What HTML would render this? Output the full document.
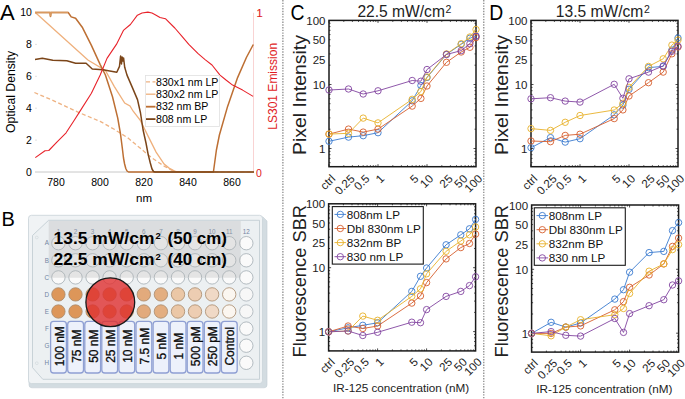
<!DOCTYPE html>
<html><head><meta charset="utf-8"><style>
html,body{margin:0;padding:0;background:#fff;}
svg{display:block;}
</style></head><body>
<svg width="685" height="399" viewBox="0 0 685 399" font-family='"Liberation Sans", sans-serif'>
<rect width="685" height="399" fill="#fff"/>
<g id="A">
<text x="0" y="20.3" font-size="22" font-family='"Liberation Sans", sans-serif'>A</text>
<line x1="35" y1="172" x2="254" y2="172" stroke="#c8c8c8" stroke-width="1"/>
<line x1="253.5" y1="12.8" x2="253.5" y2="172" stroke="#f8c8c8" stroke-width="0.8"/>
<text x="31.9" y="175.8" font-size="10.5" text-anchor="end" font-family='"Liberation Sans", sans-serif'>0</text>
<text x="31.9" y="143.9" font-size="10.5" text-anchor="end" font-family='"Liberation Sans", sans-serif'>2</text>
<line x1="35" y1="140.1" x2="37" y2="140.1" stroke="#ccc" stroke-width="0.6"/>
<text x="31.9" y="112.0" font-size="10.5" text-anchor="end" font-family='"Liberation Sans", sans-serif'>4</text>
<line x1="35" y1="108.2" x2="37" y2="108.2" stroke="#ccc" stroke-width="0.6"/>
<text x="31.9" y="80.1" font-size="10.5" text-anchor="end" font-family='"Liberation Sans", sans-serif'>6</text>
<line x1="35" y1="76.3" x2="37" y2="76.3" stroke="#ccc" stroke-width="0.6"/>
<text x="31.9" y="48.2" font-size="10.5" text-anchor="end" font-family='"Liberation Sans", sans-serif'>8</text>
<line x1="35" y1="44.4" x2="37" y2="44.4" stroke="#ccc" stroke-width="0.6"/>
<text x="31.9" y="16.3" font-size="10.5" text-anchor="end" font-family='"Liberation Sans", sans-serif'>10</text>
<line x1="35" y1="12.5" x2="37" y2="12.5" stroke="#ccc" stroke-width="0.6"/>
<text x="56.0" y="186.3" font-size="10.5" text-anchor="middle" font-family='"Liberation Sans", sans-serif'>780</text>
<text x="100.0" y="186.3" font-size="10.5" text-anchor="middle" font-family='"Liberation Sans", sans-serif'>800</text>
<text x="144.0" y="186.3" font-size="10.5" text-anchor="middle" font-family='"Liberation Sans", sans-serif'>820</text>
<text x="188.0" y="186.3" font-size="10.5" text-anchor="middle" font-family='"Liberation Sans", sans-serif'>840</text>
<text x="232.0" y="186.3" font-size="10.5" text-anchor="middle" font-family='"Liberation Sans", sans-serif'>860</text>
<text x="144" y="201.5" font-size="11.5" text-anchor="middle" font-family='"Liberation Sans", sans-serif'>nm</text>
<text transform="translate(15.3,92) rotate(-90)" font-size="12.2" text-anchor="middle" font-family='"Liberation Sans", sans-serif'>Optical Density</text>
<text transform="translate(276.5,86.3) rotate(-90)" font-size="12" fill="#e01b24" text-anchor="middle" font-family='"Liberation Sans", sans-serif'>LS301 Emission</text>
<text x="256.4" y="16.9" font-size="11" fill="#e01b24" stroke="#e01b24" stroke-width="0.15" font-family='"Liberation Sans", sans-serif'>1</text>
<text x="256" y="176.5" font-size="10.5" fill="#e01b24" font-family='"Liberation Sans", sans-serif'>0</text>
<polyline points="34.4,92.5 52.8,100.4 79.1,112.6 100.2,121.4 114.2,129.3 128.1,138.1 140.1,148.1 152.1,158.1 164.1,166.1 172.0,170.5 178.0,172.0 254.0,172.0" fill="none" stroke="#eeb282" stroke-width="1.3" stroke-dasharray="4,2.5"/>
<polyline points="35.3,12.5 87.9,60.0 105.4,70.5 114.2,86.3 124.7,103.0 130.0,106.0 133.0,111.0 140.1,120.0 148.1,136.1 156.1,152.1 164.1,164.1 169.1,168.1 176.0,171.8 254.0,172.0" fill="none" stroke="#efb07c" stroke-width="1.3"/>
<polyline points="35.0,12.5 50.0,12.5 50.5,16.5 51.0,12.5 68.2,12.5 71.2,16.9 75.6,18.2 82.6,27.8 91.4,45.4 100.2,64.6 105.4,75.0 112.5,96.8 117.7,117.9 120.5,134.0 122.3,148.0 123.5,158.0 124.6,164.0 125.8,168.5 127.0,171.0 128.5,172.0 213.4,172.0 216.4,150.0 219.4,135.0 227.6,106.4 237.6,77.6 246.4,57.5 253.3,44.5" fill="none" stroke="#bd6f33" stroke-width="1.5" stroke-linejoin="round"/>
<polyline points="35.0,12.5 50.0,12.5 50.5,16.5 51.0,12.5 68.2,12.5" fill="none" stroke="#d9995f" stroke-width="1.5"/>
<polyline points="35.0,59.4 42.3,58.2 52.8,60.3 66.8,60.8 75.6,63.2 86.1,63.2 92.3,69.0 102.8,69.8 116.8,72.3 119.5,66.4 120.6,56.0 121.5,64.0 122.1,57.0 123.0,61.0 123.6,58.0 124.7,67.3 127.0,75.1 132.3,87.4 137.5,99.6 140.5,113.0 143.1,130.0 146.0,143.0 148.1,154.1 150.3,163.0 152.0,169.0 153.5,171.5 155.0,172.0 254.0,172.0" fill="none" stroke="#7b4519" stroke-width="1.5" stroke-linejoin="round"/>
<polyline points="35.3,157.6 45.0,150.8 48.8,150.5 57.1,141.8 66.1,132.8 74.4,120.0 79.1,112.6 91.4,93.3 100.2,75.0 107.0,58.4 116.4,44.4 123.4,30.4 130.4,24.5 137.4,15.2 142.0,13.0 147.9,12.1 152.0,13.0 156.1,15.2 160.0,17.5 165.4,18.7 174.8,28.0 181.8,36.2 188.8,44.4 198.1,53.7 205.1,59.6 212.0,65.0 220.0,75.1 226.0,80.0 232.6,85.1 242.6,90.1 253.1,96.4" fill="none" stroke="#e8222a" stroke-width="1.1" stroke-linejoin="round"/>
<rect x="145.5" y="75.5" width="74" height="51" fill="#fff" stroke="#e0e0e0" stroke-width="0.8"/>
<line x1="146" y1="81.8" x2="155.5" y2="81.8" stroke="#eeb282" stroke-width="1.3" stroke-dasharray="4,2.5"/>
<text x="156" y="85.5" font-size="10.6" font-family='"Liberation Sans", sans-serif'>830x1 nm LP</text>
<line x1="146" y1="94.2" x2="155.5" y2="94.2" stroke="#efb07c" stroke-width="1.3"/>
<text x="156" y="98.0" font-size="10.6" font-family='"Liberation Sans", sans-serif'>830x2 nm LP</text>
<line x1="146" y1="106.7" x2="155.5" y2="106.7" stroke="#bd6f33" stroke-width="1.8"/>
<text x="156" y="110.4" font-size="10.6" font-family='"Liberation Sans", sans-serif'>832 nm BP</text>
<line x1="146" y1="119.1" x2="155.5" y2="119.1" stroke="#7b4519" stroke-width="1.8"/>
<text x="156" y="122.8" font-size="10.6" font-family='"Liberation Sans", sans-serif'>808 nm LP</text>
</g>
<g id="B">
<text x="1.5" y="225.8" font-size="20" font-family='"Liberation Sans", sans-serif'>B</text>
<path d="M30,217 L263,217 L267,221 L267,385 Q267,387.8 264,387.8 L32,387.8 Q29,387.8 29,385 Z" fill="#d3dce1" stroke="#c5cfd5" stroke-width="0.6"/>
<rect x="28.5" y="215.3" width="234" height="168.3" rx="3" fill="#f0f3f5" stroke="#cdd6db" stroke-width="0.9"/>
<path d="M48.6,220.3 L259.5,220.3 L259.5,379.3 L42.8,379.3 L32.5,367.6 L32.5,235.5 Z" fill="#ecf0f2" stroke="#c3ced4" stroke-width="0.9"/>
<circle cx="36.8" cy="237.5" r="1.4" fill="none" stroke="#c8d0d4" stroke-width="0.5"/>
<circle cx="36.8" cy="363.2" r="1.4" fill="none" stroke="#c8d0d4" stroke-width="0.5"/>
<text x="46.9" y="245.4" font-size="6.3" fill="#7385a2" text-anchor="middle" font-family='"Liberation Sans", sans-serif'>A</text>
<text x="46.9" y="262.5" font-size="6.3" fill="#7385a2" text-anchor="middle" font-family='"Liberation Sans", sans-serif'>B</text>
<text x="46.9" y="279.6" font-size="6.3" fill="#7385a2" text-anchor="middle" font-family='"Liberation Sans", sans-serif'>C</text>
<text x="46.9" y="296.6" font-size="6.3" fill="#7385a2" text-anchor="middle" font-family='"Liberation Sans", sans-serif'>D</text>
<text x="46.9" y="313.7" font-size="6.3" fill="#7385a2" text-anchor="middle" font-family='"Liberation Sans", sans-serif'>E</text>
<text x="46.9" y="330.8" font-size="6.3" fill="#7385a2" text-anchor="middle" font-family='"Liberation Sans", sans-serif'>F</text>
<text x="46.9" y="347.9" font-size="6.3" fill="#7385a2" text-anchor="middle" font-family='"Liberation Sans", sans-serif'>G</text>
<text x="46.9" y="365.0" font-size="6.3" fill="#7385a2" text-anchor="middle" font-family='"Liberation Sans", sans-serif'>H</text>
<text x="58.4" y="233.7" font-size="6.3" fill="#7385a2" text-anchor="middle" font-family='"Liberation Sans", sans-serif'>1</text>
<text x="75.5" y="233.7" font-size="6.3" fill="#7385a2" text-anchor="middle" font-family='"Liberation Sans", sans-serif'>2</text>
<text x="92.6" y="233.7" font-size="6.3" fill="#7385a2" text-anchor="middle" font-family='"Liberation Sans", sans-serif'>3</text>
<text x="109.6" y="233.7" font-size="6.3" fill="#7385a2" text-anchor="middle" font-family='"Liberation Sans", sans-serif'>4</text>
<text x="126.7" y="233.7" font-size="6.3" fill="#7385a2" text-anchor="middle" font-family='"Liberation Sans", sans-serif'>5</text>
<text x="143.8" y="233.7" font-size="6.3" fill="#7385a2" text-anchor="middle" font-family='"Liberation Sans", sans-serif'>6</text>
<text x="160.9" y="233.7" font-size="6.3" fill="#7385a2" text-anchor="middle" font-family='"Liberation Sans", sans-serif'>7</text>
<text x="178.0" y="233.7" font-size="6.3" fill="#7385a2" text-anchor="middle" font-family='"Liberation Sans", sans-serif'>8</text>
<text x="195.0" y="233.7" font-size="6.3" fill="#7385a2" text-anchor="middle" font-family='"Liberation Sans", sans-serif'>9</text>
<text x="212.1" y="233.7" font-size="6.3" fill="#7385a2" text-anchor="middle" font-family='"Liberation Sans", sans-serif'>10</text>
<text x="229.2" y="233.7" font-size="6.3" fill="#7385a2" text-anchor="middle" font-family='"Liberation Sans", sans-serif'>11</text>
<text x="246.3" y="233.7" font-size="6.3" fill="#7385a2" text-anchor="middle" font-family='"Liberation Sans", sans-serif'>12</text>
<circle cx="58.4" cy="243.2" r="6.7" fill="#fafafa" stroke="#a2acb2" stroke-width="0.8"/>
<circle cx="75.5" cy="243.2" r="6.7" fill="#fafafa" stroke="#a2acb2" stroke-width="0.8"/>
<circle cx="92.6" cy="243.2" r="6.7" fill="#fafafa" stroke="#a2acb2" stroke-width="0.8"/>
<circle cx="109.6" cy="243.2" r="6.7" fill="#fafafa" stroke="#a2acb2" stroke-width="0.8"/>
<circle cx="126.7" cy="243.2" r="6.7" fill="#fafafa" stroke="#a2acb2" stroke-width="0.8"/>
<circle cx="143.8" cy="243.2" r="6.7" fill="#fafafa" stroke="#a2acb2" stroke-width="0.8"/>
<circle cx="160.9" cy="243.2" r="6.7" fill="#fafafa" stroke="#a2acb2" stroke-width="0.8"/>
<circle cx="178.0" cy="243.2" r="6.7" fill="#fafafa" stroke="#a2acb2" stroke-width="0.8"/>
<circle cx="195.0" cy="243.2" r="6.7" fill="#fafafa" stroke="#a2acb2" stroke-width="0.8"/>
<circle cx="212.1" cy="243.2" r="6.7" fill="#fafafa" stroke="#a2acb2" stroke-width="0.8"/>
<circle cx="229.2" cy="243.2" r="6.7" fill="#fafafa" stroke="#a2acb2" stroke-width="0.8"/>
<circle cx="246.3" cy="243.2" r="6.7" fill="#fafafa" stroke="#a2acb2" stroke-width="0.8"/>
<circle cx="58.4" cy="260.3" r="6.7" fill="#fafafa" stroke="#a2acb2" stroke-width="0.8"/>
<circle cx="75.5" cy="260.3" r="6.7" fill="#fafafa" stroke="#a2acb2" stroke-width="0.8"/>
<circle cx="92.6" cy="260.3" r="6.7" fill="#fafafa" stroke="#a2acb2" stroke-width="0.8"/>
<circle cx="109.6" cy="260.3" r="6.7" fill="#fafafa" stroke="#a2acb2" stroke-width="0.8"/>
<circle cx="126.7" cy="260.3" r="6.7" fill="#fafafa" stroke="#a2acb2" stroke-width="0.8"/>
<circle cx="143.8" cy="260.3" r="6.7" fill="#fafafa" stroke="#a2acb2" stroke-width="0.8"/>
<circle cx="160.9" cy="260.3" r="6.7" fill="#fafafa" stroke="#a2acb2" stroke-width="0.8"/>
<circle cx="178.0" cy="260.3" r="6.7" fill="#fafafa" stroke="#a2acb2" stroke-width="0.8"/>
<circle cx="195.0" cy="260.3" r="6.7" fill="#fafafa" stroke="#a2acb2" stroke-width="0.8"/>
<circle cx="212.1" cy="260.3" r="6.7" fill="#fafafa" stroke="#a2acb2" stroke-width="0.8"/>
<circle cx="229.2" cy="260.3" r="6.7" fill="#fafafa" stroke="#a2acb2" stroke-width="0.8"/>
<circle cx="246.3" cy="260.3" r="6.7" fill="#fafafa" stroke="#a2acb2" stroke-width="0.8"/>
<circle cx="58.4" cy="277.4" r="6.7" fill="#fafafa" stroke="#a2acb2" stroke-width="0.8"/>
<circle cx="75.5" cy="277.4" r="6.7" fill="#fafafa" stroke="#a2acb2" stroke-width="0.8"/>
<circle cx="92.6" cy="277.4" r="6.7" fill="#fafafa" stroke="#a2acb2" stroke-width="0.8"/>
<circle cx="109.6" cy="277.4" r="6.7" fill="#fafafa" stroke="#a2acb2" stroke-width="0.8"/>
<circle cx="126.7" cy="277.4" r="6.7" fill="#fafafa" stroke="#a2acb2" stroke-width="0.8"/>
<circle cx="143.8" cy="277.4" r="6.7" fill="#fafafa" stroke="#a2acb2" stroke-width="0.8"/>
<circle cx="160.9" cy="277.4" r="6.7" fill="#fafafa" stroke="#a2acb2" stroke-width="0.8"/>
<circle cx="178.0" cy="277.4" r="6.7" fill="#fafafa" stroke="#a2acb2" stroke-width="0.8"/>
<circle cx="195.0" cy="277.4" r="6.7" fill="#fafafa" stroke="#a2acb2" stroke-width="0.8"/>
<circle cx="212.1" cy="277.4" r="6.7" fill="#fafafa" stroke="#a2acb2" stroke-width="0.8"/>
<circle cx="229.2" cy="277.4" r="6.7" fill="#fafafa" stroke="#a2acb2" stroke-width="0.8"/>
<circle cx="246.3" cy="277.4" r="6.7" fill="#fafafa" stroke="#a2acb2" stroke-width="0.8"/>
<circle cx="58.4" cy="294.4" r="6.7" fill="#dd9659" stroke="#a88a6c" stroke-width="0.8"/>
<circle cx="75.5" cy="294.4" r="6.7" fill="#dd9659" stroke="#a88a6c" stroke-width="0.8"/>
<circle cx="92.6" cy="294.4" r="6.7" fill="#dd9659" stroke="#a88a6c" stroke-width="0.8"/>
<circle cx="109.6" cy="294.4" r="6.7" fill="#dd9659" stroke="#a88a6c" stroke-width="0.8"/>
<circle cx="126.7" cy="294.4" r="6.7" fill="#dd9659" stroke="#a88a6c" stroke-width="0.8"/>
<circle cx="143.8" cy="294.4" r="6.7" fill="#e2aa7c" stroke="#a88a6c" stroke-width="0.8"/>
<circle cx="160.9" cy="294.4" r="6.7" fill="#e3ae80" stroke="#a88a6c" stroke-width="0.8"/>
<circle cx="178.0" cy="294.4" r="6.7" fill="#ebc7a6" stroke="#a88a6c" stroke-width="0.8"/>
<circle cx="195.0" cy="294.4" r="6.7" fill="#edcdb2" stroke="#a88a6c" stroke-width="0.8"/>
<circle cx="212.1" cy="294.4" r="6.7" fill="#f0d9c6" stroke="#a88a6c" stroke-width="0.8"/>
<circle cx="229.2" cy="294.4" r="6.7" fill="#fbf6f0" stroke="#a88a6c" stroke-width="0.8"/>
<circle cx="246.3" cy="294.4" r="6.7" fill="#f7f7f7" stroke="#a9b3b9" stroke-width="0.8"/>
<circle cx="58.4" cy="311.5" r="6.7" fill="#dd9659" stroke="#a88a6c" stroke-width="0.8"/>
<circle cx="75.5" cy="311.5" r="6.7" fill="#dd9659" stroke="#a88a6c" stroke-width="0.8"/>
<circle cx="92.6" cy="311.5" r="6.7" fill="#dd9659" stroke="#a88a6c" stroke-width="0.8"/>
<circle cx="109.6" cy="311.5" r="6.7" fill="#dd9659" stroke="#a88a6c" stroke-width="0.8"/>
<circle cx="126.7" cy="311.5" r="6.7" fill="#dd9659" stroke="#a88a6c" stroke-width="0.8"/>
<circle cx="143.8" cy="311.5" r="6.7" fill="#e2aa7c" stroke="#a88a6c" stroke-width="0.8"/>
<circle cx="160.9" cy="311.5" r="6.7" fill="#e3ae80" stroke="#a88a6c" stroke-width="0.8"/>
<circle cx="178.0" cy="311.5" r="6.7" fill="#ebc7a6" stroke="#a88a6c" stroke-width="0.8"/>
<circle cx="195.0" cy="311.5" r="6.7" fill="#edcdb2" stroke="#a88a6c" stroke-width="0.8"/>
<circle cx="212.1" cy="311.5" r="6.7" fill="#f0d9c6" stroke="#a88a6c" stroke-width="0.8"/>
<circle cx="229.2" cy="311.5" r="6.7" fill="#fbf6f0" stroke="#a88a6c" stroke-width="0.8"/>
<circle cx="246.3" cy="311.5" r="6.7" fill="#f7f7f7" stroke="#a9b3b9" stroke-width="0.8"/>
<circle cx="58.4" cy="328.6" r="6.7" fill="#fafafa" stroke="#a2acb2" stroke-width="0.8"/>
<circle cx="75.5" cy="328.6" r="6.7" fill="#fafafa" stroke="#a2acb2" stroke-width="0.8"/>
<circle cx="92.6" cy="328.6" r="6.7" fill="#fafafa" stroke="#a2acb2" stroke-width="0.8"/>
<circle cx="109.6" cy="328.6" r="6.7" fill="#fafafa" stroke="#a2acb2" stroke-width="0.8"/>
<circle cx="126.7" cy="328.6" r="6.7" fill="#fafafa" stroke="#a2acb2" stroke-width="0.8"/>
<circle cx="143.8" cy="328.6" r="6.7" fill="#fafafa" stroke="#a2acb2" stroke-width="0.8"/>
<circle cx="160.9" cy="328.6" r="6.7" fill="#fafafa" stroke="#a2acb2" stroke-width="0.8"/>
<circle cx="178.0" cy="328.6" r="6.7" fill="#fafafa" stroke="#a2acb2" stroke-width="0.8"/>
<circle cx="195.0" cy="328.6" r="6.7" fill="#fafafa" stroke="#a2acb2" stroke-width="0.8"/>
<circle cx="212.1" cy="328.6" r="6.7" fill="#fafafa" stroke="#a2acb2" stroke-width="0.8"/>
<circle cx="229.2" cy="328.6" r="6.7" fill="#fafafa" stroke="#a2acb2" stroke-width="0.8"/>
<circle cx="246.3" cy="328.6" r="6.7" fill="#fafafa" stroke="#a2acb2" stroke-width="0.8"/>
<circle cx="58.4" cy="345.7" r="6.7" fill="#fafafa" stroke="#a2acb2" stroke-width="0.8"/>
<circle cx="75.5" cy="345.7" r="6.7" fill="#fafafa" stroke="#a2acb2" stroke-width="0.8"/>
<circle cx="92.6" cy="345.7" r="6.7" fill="#fafafa" stroke="#a2acb2" stroke-width="0.8"/>
<circle cx="109.6" cy="345.7" r="6.7" fill="#fafafa" stroke="#a2acb2" stroke-width="0.8"/>
<circle cx="126.7" cy="345.7" r="6.7" fill="#fafafa" stroke="#a2acb2" stroke-width="0.8"/>
<circle cx="143.8" cy="345.7" r="6.7" fill="#fafafa" stroke="#a2acb2" stroke-width="0.8"/>
<circle cx="160.9" cy="345.7" r="6.7" fill="#fafafa" stroke="#a2acb2" stroke-width="0.8"/>
<circle cx="178.0" cy="345.7" r="6.7" fill="#fafafa" stroke="#a2acb2" stroke-width="0.8"/>
<circle cx="195.0" cy="345.7" r="6.7" fill="#fafafa" stroke="#a2acb2" stroke-width="0.8"/>
<circle cx="212.1" cy="345.7" r="6.7" fill="#fafafa" stroke="#a2acb2" stroke-width="0.8"/>
<circle cx="229.2" cy="345.7" r="6.7" fill="#fafafa" stroke="#a2acb2" stroke-width="0.8"/>
<circle cx="246.3" cy="345.7" r="6.7" fill="#fafafa" stroke="#a2acb2" stroke-width="0.8"/>
<circle cx="58.4" cy="362.8" r="6.7" fill="#fafafa" stroke="#a2acb2" stroke-width="0.8"/>
<circle cx="75.5" cy="362.8" r="6.7" fill="#fafafa" stroke="#a2acb2" stroke-width="0.8"/>
<circle cx="92.6" cy="362.8" r="6.7" fill="#fafafa" stroke="#a2acb2" stroke-width="0.8"/>
<circle cx="109.6" cy="362.8" r="6.7" fill="#fafafa" stroke="#a2acb2" stroke-width="0.8"/>
<circle cx="126.7" cy="362.8" r="6.7" fill="#fafafa" stroke="#a2acb2" stroke-width="0.8"/>
<circle cx="143.8" cy="362.8" r="6.7" fill="#fafafa" stroke="#a2acb2" stroke-width="0.8"/>
<circle cx="160.9" cy="362.8" r="6.7" fill="#fafafa" stroke="#a2acb2" stroke-width="0.8"/>
<circle cx="178.0" cy="362.8" r="6.7" fill="#fafafa" stroke="#a2acb2" stroke-width="0.8"/>
<circle cx="195.0" cy="362.8" r="6.7" fill="#fafafa" stroke="#a2acb2" stroke-width="0.8"/>
<circle cx="212.1" cy="362.8" r="6.7" fill="#fafafa" stroke="#a2acb2" stroke-width="0.8"/>
<circle cx="229.2" cy="362.8" r="6.7" fill="#fafafa" stroke="#a2acb2" stroke-width="0.8"/>
<circle cx="246.3" cy="362.8" r="6.7" fill="#fafafa" stroke="#a2acb2" stroke-width="0.8"/>
<rect x="48.7" y="221" width="192" height="56.8" fill="#b4b4b4" fill-opacity="0.3"/>
<text x="53.6" y="243.8" font-size="16.2" font-weight="bold" textLength="100.8" lengthAdjust="spacingAndGlyphs" font-family='"Liberation Sans", sans-serif'>13.5 mW/cm</text>
<text x="155.6" y="238.6" font-size="9.5" font-weight="bold" font-family='"Liberation Sans", sans-serif'>2</text>
<text x="167.6" y="243.8" font-size="16.2" font-weight="bold" textLength="59.3" lengthAdjust="spacingAndGlyphs" font-family='"Liberation Sans", sans-serif'>(50 cm)</text>
<text x="53.6" y="264.8" font-size="16.2" font-weight="bold" textLength="100.8" lengthAdjust="spacingAndGlyphs" font-family='"Liberation Sans", sans-serif'>22.5 mW/cm</text>
<text x="155.6" y="259.6" font-size="9.5" font-weight="bold" font-family='"Liberation Sans", sans-serif'>2</text>
<text x="167.6" y="264.8" font-size="16.2" font-weight="bold" textLength="59.3" lengthAdjust="spacingAndGlyphs" font-family='"Liberation Sans", sans-serif'>(40 cm)</text>
<rect x="50.6" y="321.4" width="15.8" height="51.6" rx="3" fill="#edf1fb" stroke="#8f9fd3" stroke-width="1.3"/>
<text transform="translate(63.6,346.2) rotate(-90)" font-size="12" text-anchor="middle" fill="#0a0a0a" stroke="#0a0a0a" stroke-width="0.3" font-family='"Liberation Sans", sans-serif'>100 nM</text>
<rect x="67.7" y="321.4" width="15.8" height="51.6" rx="3" fill="#edf1fb" stroke="#8f9fd3" stroke-width="1.3"/>
<text transform="translate(80.7,346.2) rotate(-90)" font-size="12" text-anchor="middle" fill="#0a0a0a" stroke="#0a0a0a" stroke-width="0.3" font-family='"Liberation Sans", sans-serif'>75 nM</text>
<rect x="84.8" y="321.4" width="15.8" height="51.6" rx="3" fill="#edf1fb" stroke="#8f9fd3" stroke-width="1.3"/>
<text transform="translate(97.8,346.2) rotate(-90)" font-size="12" text-anchor="middle" fill="#0a0a0a" stroke="#0a0a0a" stroke-width="0.3" font-family='"Liberation Sans", sans-serif'>50 nM</text>
<rect x="101.8" y="321.4" width="15.8" height="51.6" rx="3" fill="#edf1fb" stroke="#8f9fd3" stroke-width="1.3"/>
<text transform="translate(114.8,346.2) rotate(-90)" font-size="12" text-anchor="middle" fill="#0a0a0a" stroke="#0a0a0a" stroke-width="0.3" font-family='"Liberation Sans", sans-serif'>25 nM</text>
<rect x="118.9" y="321.4" width="15.8" height="51.6" rx="3" fill="#edf1fb" stroke="#8f9fd3" stroke-width="1.3"/>
<text transform="translate(131.9,346.2) rotate(-90)" font-size="12" text-anchor="middle" fill="#0a0a0a" stroke="#0a0a0a" stroke-width="0.3" font-family='"Liberation Sans", sans-serif'>10 nM</text>
<rect x="136.0" y="321.4" width="15.8" height="51.6" rx="3" fill="#edf1fb" stroke="#8f9fd3" stroke-width="1.3"/>
<text transform="translate(149.0,346.2) rotate(-90)" font-size="12" text-anchor="middle" fill="#0a0a0a" stroke="#0a0a0a" stroke-width="0.3" font-family='"Liberation Sans", sans-serif'>7.5 nM</text>
<rect x="153.1" y="321.4" width="15.8" height="51.6" rx="3" fill="#edf1fb" stroke="#8f9fd3" stroke-width="1.3"/>
<text transform="translate(166.1,346.2) rotate(-90)" font-size="12" text-anchor="middle" fill="#0a0a0a" stroke="#0a0a0a" stroke-width="0.3" font-family='"Liberation Sans", sans-serif'>5 nM</text>
<rect x="170.2" y="321.4" width="15.8" height="51.6" rx="3" fill="#edf1fb" stroke="#8f9fd3" stroke-width="1.3"/>
<text transform="translate(183.2,346.2) rotate(-90)" font-size="12" text-anchor="middle" fill="#0a0a0a" stroke="#0a0a0a" stroke-width="0.3" font-family='"Liberation Sans", sans-serif'>1 nM</text>
<rect x="187.2" y="321.4" width="15.8" height="51.6" rx="3" fill="#edf1fb" stroke="#8f9fd3" stroke-width="1.3"/>
<text transform="translate(200.2,346.2) rotate(-90)" font-size="12" text-anchor="middle" fill="#0a0a0a" stroke="#0a0a0a" stroke-width="0.3" font-family='"Liberation Sans", sans-serif'>500 pM</text>
<rect x="204.3" y="321.4" width="15.8" height="51.6" rx="3" fill="#edf1fb" stroke="#8f9fd3" stroke-width="1.3"/>
<text transform="translate(217.3,346.2) rotate(-90)" font-size="12" text-anchor="middle" fill="#0a0a0a" stroke="#0a0a0a" stroke-width="0.3" font-family='"Liberation Sans", sans-serif'>250 pM</text>
<rect x="221.4" y="321.4" width="15.8" height="51.6" rx="3" fill="#edf1fb" stroke="#8f9fd3" stroke-width="1.3"/>
<text transform="translate(234.4,346.2) rotate(-90)" font-size="12" text-anchor="middle" fill="#0a0a0a" stroke="#0a0a0a" stroke-width="0.3" font-family='"Liberation Sans", sans-serif'>Control</text>
<circle cx="110.3" cy="302.2" r="24.4" fill="#e03030" fill-opacity="0.8" stroke="#1a1a1a" stroke-width="1.3"/>
</g>
<line x1="282.9" y1="0" x2="282.9" y2="399" stroke="#777" stroke-width="1.1" stroke-dasharray="1.4,1.3"/>
<line x1="483.8" y1="0" x2="483.8" y2="399" stroke="#777" stroke-width="1.1" stroke-dasharray="1.4,1.3"/>
<text x="290.5" y="20.3" font-size="22" textLength="14" lengthAdjust="spacingAndGlyphs" font-family='"Liberation Sans", sans-serif'>C</text>
<text x="357.4" y="17.2" font-size="15.8" textLength="87.5" lengthAdjust="spacingAndGlyphs" fill="#222" font-family='"Liberation Sans", sans-serif'>22.5 mW/cm</text>
<text x="445.6" y="12.6" font-size="10.5" fill="#222" font-family='"Liberation Sans", sans-serif'>2</text>
<line x1="329" y1="162.7" x2="330.5" y2="162.7" stroke="#222" stroke-width="0.8"/>
<line x1="476" y1="162.7" x2="474.5" y2="162.7" stroke="#222" stroke-width="0.8"/>
<line x1="329" y1="158.4" x2="330.5" y2="158.4" stroke="#222" stroke-width="0.8"/>
<line x1="476" y1="158.4" x2="474.5" y2="158.4" stroke="#222" stroke-width="0.8"/>
<line x1="329" y1="154.7" x2="330.5" y2="154.7" stroke="#222" stroke-width="0.8"/>
<line x1="476" y1="154.7" x2="474.5" y2="154.7" stroke="#222" stroke-width="0.8"/>
<line x1="329" y1="151.4" x2="330.5" y2="151.4" stroke="#222" stroke-width="0.8"/>
<line x1="476" y1="151.4" x2="474.5" y2="151.4" stroke="#222" stroke-width="0.8"/>
<line x1="329" y1="148.5" x2="331.5" y2="148.5" stroke="#222" stroke-width="0.8"/>
<line x1="476" y1="148.5" x2="473.5" y2="148.5" stroke="#222" stroke-width="0.8"/>
<line x1="329" y1="129.2" x2="330.5" y2="129.2" stroke="#222" stroke-width="0.8"/>
<line x1="476" y1="129.2" x2="474.5" y2="129.2" stroke="#222" stroke-width="0.8"/>
<line x1="329" y1="117.9" x2="330.5" y2="117.9" stroke="#222" stroke-width="0.8"/>
<line x1="476" y1="117.9" x2="474.5" y2="117.9" stroke="#222" stroke-width="0.8"/>
<line x1="329" y1="109.9" x2="330.5" y2="109.9" stroke="#222" stroke-width="0.8"/>
<line x1="476" y1="109.9" x2="474.5" y2="109.9" stroke="#222" stroke-width="0.8"/>
<line x1="329" y1="103.7" x2="330.5" y2="103.7" stroke="#222" stroke-width="0.8"/>
<line x1="476" y1="103.7" x2="474.5" y2="103.7" stroke="#222" stroke-width="0.8"/>
<line x1="329" y1="98.7" x2="330.5" y2="98.7" stroke="#222" stroke-width="0.8"/>
<line x1="476" y1="98.7" x2="474.5" y2="98.7" stroke="#222" stroke-width="0.8"/>
<line x1="329" y1="94.4" x2="330.5" y2="94.4" stroke="#222" stroke-width="0.8"/>
<line x1="476" y1="94.4" x2="474.5" y2="94.4" stroke="#222" stroke-width="0.8"/>
<line x1="329" y1="90.7" x2="330.5" y2="90.7" stroke="#222" stroke-width="0.8"/>
<line x1="476" y1="90.7" x2="474.5" y2="90.7" stroke="#222" stroke-width="0.8"/>
<line x1="329" y1="87.4" x2="330.5" y2="87.4" stroke="#222" stroke-width="0.8"/>
<line x1="476" y1="87.4" x2="474.5" y2="87.4" stroke="#222" stroke-width="0.8"/>
<line x1="329" y1="84.5" x2="331.5" y2="84.5" stroke="#222" stroke-width="0.8"/>
<line x1="476" y1="84.5" x2="473.5" y2="84.5" stroke="#222" stroke-width="0.8"/>
<line x1="329" y1="65.2" x2="330.5" y2="65.2" stroke="#222" stroke-width="0.8"/>
<line x1="476" y1="65.2" x2="474.5" y2="65.2" stroke="#222" stroke-width="0.8"/>
<line x1="329" y1="53.9" x2="330.5" y2="53.9" stroke="#222" stroke-width="0.8"/>
<line x1="476" y1="53.9" x2="474.5" y2="53.9" stroke="#222" stroke-width="0.8"/>
<line x1="329" y1="45.9" x2="330.5" y2="45.9" stroke="#222" stroke-width="0.8"/>
<line x1="476" y1="45.9" x2="474.5" y2="45.9" stroke="#222" stroke-width="0.8"/>
<line x1="329" y1="39.7" x2="330.5" y2="39.7" stroke="#222" stroke-width="0.8"/>
<line x1="476" y1="39.7" x2="474.5" y2="39.7" stroke="#222" stroke-width="0.8"/>
<line x1="329" y1="34.6" x2="330.5" y2="34.6" stroke="#222" stroke-width="0.8"/>
<line x1="476" y1="34.6" x2="474.5" y2="34.6" stroke="#222" stroke-width="0.8"/>
<line x1="329" y1="30.3" x2="330.5" y2="30.3" stroke="#222" stroke-width="0.8"/>
<line x1="476" y1="30.3" x2="474.5" y2="30.3" stroke="#222" stroke-width="0.8"/>
<line x1="329" y1="26.6" x2="330.5" y2="26.6" stroke="#222" stroke-width="0.8"/>
<line x1="476" y1="26.6" x2="474.5" y2="26.6" stroke="#222" stroke-width="0.8"/>
<line x1="329" y1="23.3" x2="330.5" y2="23.3" stroke="#222" stroke-width="0.8"/>
<line x1="476" y1="23.3" x2="474.5" y2="23.3" stroke="#222" stroke-width="0.8"/>
<line x1="329.0" y1="166.7" x2="329.0" y2="164.2" stroke="#222" stroke-width="0.8"/>
<line x1="329.0" y1="20.4" x2="329.0" y2="22.9" stroke="#222" stroke-width="0.8"/>
<line x1="343.8" y1="166.7" x2="343.8" y2="165.2" stroke="#222" stroke-width="0.8"/>
<line x1="343.8" y1="20.4" x2="343.8" y2="21.9" stroke="#222" stroke-width="0.8"/>
<line x1="352.4" y1="166.7" x2="352.4" y2="165.2" stroke="#222" stroke-width="0.8"/>
<line x1="352.4" y1="20.4" x2="352.4" y2="21.9" stroke="#222" stroke-width="0.8"/>
<line x1="358.5" y1="166.7" x2="358.5" y2="165.2" stroke="#222" stroke-width="0.8"/>
<line x1="358.5" y1="20.4" x2="358.5" y2="21.9" stroke="#222" stroke-width="0.8"/>
<line x1="363.2" y1="166.7" x2="363.2" y2="165.2" stroke="#222" stroke-width="0.8"/>
<line x1="363.2" y1="20.4" x2="363.2" y2="21.9" stroke="#222" stroke-width="0.8"/>
<line x1="367.1" y1="166.7" x2="367.1" y2="165.2" stroke="#222" stroke-width="0.8"/>
<line x1="367.1" y1="20.4" x2="367.1" y2="21.9" stroke="#222" stroke-width="0.8"/>
<line x1="370.4" y1="166.7" x2="370.4" y2="165.2" stroke="#222" stroke-width="0.8"/>
<line x1="370.4" y1="20.4" x2="370.4" y2="21.9" stroke="#222" stroke-width="0.8"/>
<line x1="373.3" y1="166.7" x2="373.3" y2="165.2" stroke="#222" stroke-width="0.8"/>
<line x1="373.3" y1="20.4" x2="373.3" y2="21.9" stroke="#222" stroke-width="0.8"/>
<line x1="375.8" y1="166.7" x2="375.8" y2="165.2" stroke="#222" stroke-width="0.8"/>
<line x1="375.8" y1="20.4" x2="375.8" y2="21.9" stroke="#222" stroke-width="0.8"/>
<line x1="378.0" y1="166.7" x2="378.0" y2="164.2" stroke="#222" stroke-width="0.8"/>
<line x1="378.0" y1="20.4" x2="378.0" y2="22.9" stroke="#222" stroke-width="0.8"/>
<line x1="392.8" y1="166.7" x2="392.8" y2="165.2" stroke="#222" stroke-width="0.8"/>
<line x1="392.8" y1="20.4" x2="392.8" y2="21.9" stroke="#222" stroke-width="0.8"/>
<line x1="401.4" y1="166.7" x2="401.4" y2="165.2" stroke="#222" stroke-width="0.8"/>
<line x1="401.4" y1="20.4" x2="401.4" y2="21.9" stroke="#222" stroke-width="0.8"/>
<line x1="407.5" y1="166.7" x2="407.5" y2="165.2" stroke="#222" stroke-width="0.8"/>
<line x1="407.5" y1="20.4" x2="407.5" y2="21.9" stroke="#222" stroke-width="0.8"/>
<line x1="412.2" y1="166.7" x2="412.2" y2="165.2" stroke="#222" stroke-width="0.8"/>
<line x1="412.2" y1="20.4" x2="412.2" y2="21.9" stroke="#222" stroke-width="0.8"/>
<line x1="416.1" y1="166.7" x2="416.1" y2="165.2" stroke="#222" stroke-width="0.8"/>
<line x1="416.1" y1="20.4" x2="416.1" y2="21.9" stroke="#222" stroke-width="0.8"/>
<line x1="419.4" y1="166.7" x2="419.4" y2="165.2" stroke="#222" stroke-width="0.8"/>
<line x1="419.4" y1="20.4" x2="419.4" y2="21.9" stroke="#222" stroke-width="0.8"/>
<line x1="422.3" y1="166.7" x2="422.3" y2="165.2" stroke="#222" stroke-width="0.8"/>
<line x1="422.3" y1="20.4" x2="422.3" y2="21.9" stroke="#222" stroke-width="0.8"/>
<line x1="424.8" y1="166.7" x2="424.8" y2="165.2" stroke="#222" stroke-width="0.8"/>
<line x1="424.8" y1="20.4" x2="424.8" y2="21.9" stroke="#222" stroke-width="0.8"/>
<line x1="427.0" y1="166.7" x2="427.0" y2="164.2" stroke="#222" stroke-width="0.8"/>
<line x1="427.0" y1="20.4" x2="427.0" y2="22.9" stroke="#222" stroke-width="0.8"/>
<line x1="441.8" y1="166.7" x2="441.8" y2="165.2" stroke="#222" stroke-width="0.8"/>
<line x1="441.8" y1="20.4" x2="441.8" y2="21.9" stroke="#222" stroke-width="0.8"/>
<line x1="450.4" y1="166.7" x2="450.4" y2="165.2" stroke="#222" stroke-width="0.8"/>
<line x1="450.4" y1="20.4" x2="450.4" y2="21.9" stroke="#222" stroke-width="0.8"/>
<line x1="456.5" y1="166.7" x2="456.5" y2="165.2" stroke="#222" stroke-width="0.8"/>
<line x1="456.5" y1="20.4" x2="456.5" y2="21.9" stroke="#222" stroke-width="0.8"/>
<line x1="461.2" y1="166.7" x2="461.2" y2="165.2" stroke="#222" stroke-width="0.8"/>
<line x1="461.2" y1="20.4" x2="461.2" y2="21.9" stroke="#222" stroke-width="0.8"/>
<line x1="465.1" y1="166.7" x2="465.1" y2="165.2" stroke="#222" stroke-width="0.8"/>
<line x1="465.1" y1="20.4" x2="465.1" y2="21.9" stroke="#222" stroke-width="0.8"/>
<line x1="468.4" y1="166.7" x2="468.4" y2="165.2" stroke="#222" stroke-width="0.8"/>
<line x1="468.4" y1="20.4" x2="468.4" y2="21.9" stroke="#222" stroke-width="0.8"/>
<line x1="471.3" y1="166.7" x2="471.3" y2="165.2" stroke="#222" stroke-width="0.8"/>
<line x1="471.3" y1="20.4" x2="471.3" y2="21.9" stroke="#222" stroke-width="0.8"/>
<line x1="473.8" y1="166.7" x2="473.8" y2="165.2" stroke="#222" stroke-width="0.8"/>
<line x1="473.8" y1="20.4" x2="473.8" y2="21.9" stroke="#222" stroke-width="0.8"/>
<rect x="329" y="20.4" width="147" height="146.3" fill="none" stroke="#1a1a1a" stroke-width="1.5"/>
<text x="325.5" y="25.0" font-size="11.5" text-anchor="end" fill="#222" font-family='"Liberation Sans", sans-serif'>100</text>
<text x="325.5" y="44.3" font-size="11.5" text-anchor="end" fill="#222" font-family='"Liberation Sans", sans-serif'>50</text>
<text x="325.5" y="63.6" font-size="11.5" text-anchor="end" fill="#222" font-family='"Liberation Sans", sans-serif'>25</text>
<text x="325.5" y="89.0" font-size="11.5" text-anchor="end" fill="#222" font-family='"Liberation Sans", sans-serif'>10</text>
<text x="325.5" y="153.1" font-size="11.5" text-anchor="end" fill="#222" font-family='"Liberation Sans", sans-serif'>1</text>
<text transform="translate(336.0,179.5) rotate(-45)" font-size="11.6" text-anchor="end" fill="#222" font-family='"Liberation Sans", sans-serif'>ctrl</text>
<text transform="translate(355.5,179.5) rotate(-45)" font-size="11.6" text-anchor="end" fill="#222" font-family='"Liberation Sans", sans-serif'>0.25</text>
<text transform="translate(370.2,179.5) rotate(-45)" font-size="11.6" text-anchor="end" fill="#222" font-family='"Liberation Sans", sans-serif'>0.5</text>
<text transform="translate(385.0,179.5) rotate(-45)" font-size="11.6" text-anchor="end" fill="#222" font-family='"Liberation Sans", sans-serif'>1</text>
<text transform="translate(419.2,179.5) rotate(-45)" font-size="11.6" text-anchor="end" fill="#222" font-family='"Liberation Sans", sans-serif'>5</text>
<text transform="translate(434.0,179.5) rotate(-45)" font-size="11.6" text-anchor="end" fill="#222" font-family='"Liberation Sans", sans-serif'>10</text>
<text transform="translate(453.5,179.5) rotate(-45)" font-size="11.6" text-anchor="end" fill="#222" font-family='"Liberation Sans", sans-serif'>25</text>
<text transform="translate(468.2,179.5) rotate(-45)" font-size="11.6" text-anchor="end" fill="#222" font-family='"Liberation Sans", sans-serif'>50</text>
<text transform="translate(483.0,179.5) rotate(-45)" font-size="11.6" text-anchor="end" fill="#222" font-family='"Liberation Sans", sans-serif'>100</text>
<polyline points="329.0,141.3 348.5,137.1 363.2,135.7 378.0,132.7 412.2,100.8 420.9,85.5 427.0,77.5 446.5,54.3 461.2,44.3 469.9,38.2 476.0,36.2" fill="none" stroke="#3a7bcf" stroke-width="0.9"/>
<circle cx="329.0" cy="141.3" r="3.2" fill="none" stroke="#3a7bcf" stroke-width="0.9"/>
<circle cx="348.5" cy="137.1" r="3.2" fill="none" stroke="#3a7bcf" stroke-width="0.9"/>
<circle cx="363.2" cy="135.7" r="3.2" fill="none" stroke="#3a7bcf" stroke-width="0.9"/>
<circle cx="378.0" cy="132.7" r="3.2" fill="none" stroke="#3a7bcf" stroke-width="0.9"/>
<circle cx="412.2" cy="100.8" r="3.2" fill="none" stroke="#3a7bcf" stroke-width="0.9"/>
<circle cx="420.9" cy="85.5" r="3.2" fill="none" stroke="#3a7bcf" stroke-width="0.9"/>
<circle cx="427.0" cy="77.5" r="3.2" fill="none" stroke="#3a7bcf" stroke-width="0.9"/>
<circle cx="446.5" cy="54.3" r="3.2" fill="none" stroke="#3a7bcf" stroke-width="0.9"/>
<circle cx="461.2" cy="44.3" r="3.2" fill="none" stroke="#3a7bcf" stroke-width="0.9"/>
<circle cx="469.9" cy="38.2" r="3.2" fill="none" stroke="#3a7bcf" stroke-width="0.9"/>
<circle cx="476.0" cy="36.2" r="3.2" fill="none" stroke="#3a7bcf" stroke-width="0.9"/>
<polyline points="329.0,134.1 348.5,129.1 363.2,132.1 378.0,129.1 412.2,106.1 420.9,98.4 427.0,86.0 446.5,62.3 461.2,52.0 469.9,47.3 476.0,37.6" fill="none" stroke="#d65e2c" stroke-width="0.9"/>
<circle cx="329.0" cy="134.1" r="3.2" fill="none" stroke="#d65e2c" stroke-width="0.9"/>
<circle cx="348.5" cy="129.1" r="3.2" fill="none" stroke="#d65e2c" stroke-width="0.9"/>
<circle cx="363.2" cy="132.1" r="3.2" fill="none" stroke="#d65e2c" stroke-width="0.9"/>
<circle cx="378.0" cy="129.1" r="3.2" fill="none" stroke="#d65e2c" stroke-width="0.9"/>
<circle cx="412.2" cy="106.1" r="3.2" fill="none" stroke="#d65e2c" stroke-width="0.9"/>
<circle cx="420.9" cy="98.4" r="3.2" fill="none" stroke="#d65e2c" stroke-width="0.9"/>
<circle cx="427.0" cy="86.0" r="3.2" fill="none" stroke="#d65e2c" stroke-width="0.9"/>
<circle cx="446.5" cy="62.3" r="3.2" fill="none" stroke="#d65e2c" stroke-width="0.9"/>
<circle cx="461.2" cy="52.0" r="3.2" fill="none" stroke="#d65e2c" stroke-width="0.9"/>
<circle cx="469.9" cy="47.3" r="3.2" fill="none" stroke="#d65e2c" stroke-width="0.9"/>
<circle cx="476.0" cy="37.6" r="3.2" fill="none" stroke="#d65e2c" stroke-width="0.9"/>
<polyline points="329.0,134.1 348.5,133.3 363.2,118.1 378.0,122.9 412.2,99.3 420.9,91.5 427.0,77.0 446.5,53.9 461.2,43.7 469.9,37.0 476.0,29.5" fill="none" stroke="#e8b12a" stroke-width="0.9"/>
<circle cx="329.0" cy="134.1" r="3.2" fill="none" stroke="#e8b12a" stroke-width="0.9"/>
<circle cx="348.5" cy="133.3" r="3.2" fill="none" stroke="#e8b12a" stroke-width="0.9"/>
<circle cx="363.2" cy="118.1" r="3.2" fill="none" stroke="#e8b12a" stroke-width="0.9"/>
<circle cx="378.0" cy="122.9" r="3.2" fill="none" stroke="#e8b12a" stroke-width="0.9"/>
<circle cx="412.2" cy="99.3" r="3.2" fill="none" stroke="#e8b12a" stroke-width="0.9"/>
<circle cx="420.9" cy="91.5" r="3.2" fill="none" stroke="#e8b12a" stroke-width="0.9"/>
<circle cx="427.0" cy="77.0" r="3.2" fill="none" stroke="#e8b12a" stroke-width="0.9"/>
<circle cx="446.5" cy="53.9" r="3.2" fill="none" stroke="#e8b12a" stroke-width="0.9"/>
<circle cx="461.2" cy="43.7" r="3.2" fill="none" stroke="#e8b12a" stroke-width="0.9"/>
<circle cx="469.9" cy="37.0" r="3.2" fill="none" stroke="#e8b12a" stroke-width="0.9"/>
<circle cx="476.0" cy="29.5" r="3.2" fill="none" stroke="#e8b12a" stroke-width="0.9"/>
<polyline points="329.0,90.0 348.5,89.0 363.2,94.0 378.0,90.8 412.2,80.5 420.9,81.2 427.0,69.5 446.5,54.5 461.2,50.6 469.9,43.7 476.0,36.2" fill="none" stroke="#8245a0" stroke-width="0.9"/>
<circle cx="329.0" cy="90.0" r="3.2" fill="none" stroke="#8245a0" stroke-width="0.9"/>
<circle cx="348.5" cy="89.0" r="3.2" fill="none" stroke="#8245a0" stroke-width="0.9"/>
<circle cx="363.2" cy="94.0" r="3.2" fill="none" stroke="#8245a0" stroke-width="0.9"/>
<circle cx="378.0" cy="90.8" r="3.2" fill="none" stroke="#8245a0" stroke-width="0.9"/>
<circle cx="412.2" cy="80.5" r="3.2" fill="none" stroke="#8245a0" stroke-width="0.9"/>
<circle cx="420.9" cy="81.2" r="3.2" fill="none" stroke="#8245a0" stroke-width="0.9"/>
<circle cx="427.0" cy="69.5" r="3.2" fill="none" stroke="#8245a0" stroke-width="0.9"/>
<circle cx="446.5" cy="54.5" r="3.2" fill="none" stroke="#8245a0" stroke-width="0.9"/>
<circle cx="461.2" cy="50.6" r="3.2" fill="none" stroke="#8245a0" stroke-width="0.9"/>
<circle cx="469.9" cy="43.7" r="3.2" fill="none" stroke="#8245a0" stroke-width="0.9"/>
<circle cx="476.0" cy="36.2" r="3.2" fill="none" stroke="#8245a0" stroke-width="0.9"/>
<text transform="translate(305.8,95) rotate(-90)" font-size="19" text-anchor="middle" textLength="120" lengthAdjust="spacingAndGlyphs" fill="#222" font-family='"Liberation Sans", sans-serif'>Pixel Intensity</text>
<line x1="328.6" y1="350.8" x2="330.1" y2="350.8" stroke="#222" stroke-width="0.8"/>
<line x1="475.6" y1="350.8" x2="474.1" y2="350.8" stroke="#222" stroke-width="0.8"/>
<line x1="328.6" y1="345.8" x2="330.1" y2="345.8" stroke="#222" stroke-width="0.8"/>
<line x1="475.6" y1="345.8" x2="474.1" y2="345.8" stroke="#222" stroke-width="0.8"/>
<line x1="328.6" y1="341.5" x2="330.1" y2="341.5" stroke="#222" stroke-width="0.8"/>
<line x1="475.6" y1="341.5" x2="474.1" y2="341.5" stroke="#222" stroke-width="0.8"/>
<line x1="328.6" y1="337.8" x2="330.1" y2="337.8" stroke="#222" stroke-width="0.8"/>
<line x1="475.6" y1="337.8" x2="474.1" y2="337.8" stroke="#222" stroke-width="0.8"/>
<line x1="328.6" y1="334.5" x2="330.1" y2="334.5" stroke="#222" stroke-width="0.8"/>
<line x1="475.6" y1="334.5" x2="474.1" y2="334.5" stroke="#222" stroke-width="0.8"/>
<line x1="328.6" y1="331.6" x2="331.1" y2="331.6" stroke="#222" stroke-width="0.8"/>
<line x1="475.6" y1="331.6" x2="473.1" y2="331.6" stroke="#222" stroke-width="0.8"/>
<line x1="328.6" y1="312.4" x2="330.1" y2="312.4" stroke="#222" stroke-width="0.8"/>
<line x1="475.6" y1="312.4" x2="474.1" y2="312.4" stroke="#222" stroke-width="0.8"/>
<line x1="328.6" y1="301.1" x2="330.1" y2="301.1" stroke="#222" stroke-width="0.8"/>
<line x1="475.6" y1="301.1" x2="474.1" y2="301.1" stroke="#222" stroke-width="0.8"/>
<line x1="328.6" y1="293.1" x2="330.1" y2="293.1" stroke="#222" stroke-width="0.8"/>
<line x1="475.6" y1="293.1" x2="474.1" y2="293.1" stroke="#222" stroke-width="0.8"/>
<line x1="328.6" y1="286.9" x2="330.1" y2="286.9" stroke="#222" stroke-width="0.8"/>
<line x1="475.6" y1="286.9" x2="474.1" y2="286.9" stroke="#222" stroke-width="0.8"/>
<line x1="328.6" y1="281.9" x2="330.1" y2="281.9" stroke="#222" stroke-width="0.8"/>
<line x1="475.6" y1="281.9" x2="474.1" y2="281.9" stroke="#222" stroke-width="0.8"/>
<line x1="328.6" y1="277.6" x2="330.1" y2="277.6" stroke="#222" stroke-width="0.8"/>
<line x1="475.6" y1="277.6" x2="474.1" y2="277.6" stroke="#222" stroke-width="0.8"/>
<line x1="328.6" y1="273.9" x2="330.1" y2="273.9" stroke="#222" stroke-width="0.8"/>
<line x1="475.6" y1="273.9" x2="474.1" y2="273.9" stroke="#222" stroke-width="0.8"/>
<line x1="328.6" y1="270.6" x2="330.1" y2="270.6" stroke="#222" stroke-width="0.8"/>
<line x1="475.6" y1="270.6" x2="474.1" y2="270.6" stroke="#222" stroke-width="0.8"/>
<line x1="328.6" y1="267.7" x2="331.1" y2="267.7" stroke="#222" stroke-width="0.8"/>
<line x1="475.6" y1="267.7" x2="473.1" y2="267.7" stroke="#222" stroke-width="0.8"/>
<line x1="328.6" y1="248.5" x2="330.1" y2="248.5" stroke="#222" stroke-width="0.8"/>
<line x1="475.6" y1="248.5" x2="474.1" y2="248.5" stroke="#222" stroke-width="0.8"/>
<line x1="328.6" y1="237.2" x2="330.1" y2="237.2" stroke="#222" stroke-width="0.8"/>
<line x1="475.6" y1="237.2" x2="474.1" y2="237.2" stroke="#222" stroke-width="0.8"/>
<line x1="328.6" y1="229.2" x2="330.1" y2="229.2" stroke="#222" stroke-width="0.8"/>
<line x1="475.6" y1="229.2" x2="474.1" y2="229.2" stroke="#222" stroke-width="0.8"/>
<line x1="328.6" y1="223.0" x2="330.1" y2="223.0" stroke="#222" stroke-width="0.8"/>
<line x1="475.6" y1="223.0" x2="474.1" y2="223.0" stroke="#222" stroke-width="0.8"/>
<line x1="328.6" y1="218.0" x2="330.1" y2="218.0" stroke="#222" stroke-width="0.8"/>
<line x1="475.6" y1="218.0" x2="474.1" y2="218.0" stroke="#222" stroke-width="0.8"/>
<line x1="328.6" y1="213.7" x2="330.1" y2="213.7" stroke="#222" stroke-width="0.8"/>
<line x1="475.6" y1="213.7" x2="474.1" y2="213.7" stroke="#222" stroke-width="0.8"/>
<line x1="328.6" y1="210.0" x2="330.1" y2="210.0" stroke="#222" stroke-width="0.8"/>
<line x1="475.6" y1="210.0" x2="474.1" y2="210.0" stroke="#222" stroke-width="0.8"/>
<line x1="328.6" y1="206.7" x2="330.1" y2="206.7" stroke="#222" stroke-width="0.8"/>
<line x1="475.6" y1="206.7" x2="474.1" y2="206.7" stroke="#222" stroke-width="0.8"/>
<line x1="328.6" y1="350.9" x2="328.6" y2="348.4" stroke="#222" stroke-width="0.8"/>
<line x1="328.6" y1="203.8" x2="328.6" y2="206.3" stroke="#222" stroke-width="0.8"/>
<line x1="343.4" y1="350.9" x2="343.4" y2="349.4" stroke="#222" stroke-width="0.8"/>
<line x1="343.4" y1="203.8" x2="343.4" y2="205.3" stroke="#222" stroke-width="0.8"/>
<line x1="352.0" y1="350.9" x2="352.0" y2="349.4" stroke="#222" stroke-width="0.8"/>
<line x1="352.0" y1="203.8" x2="352.0" y2="205.3" stroke="#222" stroke-width="0.8"/>
<line x1="358.1" y1="350.9" x2="358.1" y2="349.4" stroke="#222" stroke-width="0.8"/>
<line x1="358.1" y1="203.8" x2="358.1" y2="205.3" stroke="#222" stroke-width="0.8"/>
<line x1="362.8" y1="350.9" x2="362.8" y2="349.4" stroke="#222" stroke-width="0.8"/>
<line x1="362.8" y1="203.8" x2="362.8" y2="205.3" stroke="#222" stroke-width="0.8"/>
<line x1="366.7" y1="350.9" x2="366.7" y2="349.4" stroke="#222" stroke-width="0.8"/>
<line x1="366.7" y1="203.8" x2="366.7" y2="205.3" stroke="#222" stroke-width="0.8"/>
<line x1="370.0" y1="350.9" x2="370.0" y2="349.4" stroke="#222" stroke-width="0.8"/>
<line x1="370.0" y1="203.8" x2="370.0" y2="205.3" stroke="#222" stroke-width="0.8"/>
<line x1="372.9" y1="350.9" x2="372.9" y2="349.4" stroke="#222" stroke-width="0.8"/>
<line x1="372.9" y1="203.8" x2="372.9" y2="205.3" stroke="#222" stroke-width="0.8"/>
<line x1="375.4" y1="350.9" x2="375.4" y2="349.4" stroke="#222" stroke-width="0.8"/>
<line x1="375.4" y1="203.8" x2="375.4" y2="205.3" stroke="#222" stroke-width="0.8"/>
<line x1="377.6" y1="350.9" x2="377.6" y2="348.4" stroke="#222" stroke-width="0.8"/>
<line x1="377.6" y1="203.8" x2="377.6" y2="206.3" stroke="#222" stroke-width="0.8"/>
<line x1="392.4" y1="350.9" x2="392.4" y2="349.4" stroke="#222" stroke-width="0.8"/>
<line x1="392.4" y1="203.8" x2="392.4" y2="205.3" stroke="#222" stroke-width="0.8"/>
<line x1="401.0" y1="350.9" x2="401.0" y2="349.4" stroke="#222" stroke-width="0.8"/>
<line x1="401.0" y1="203.8" x2="401.0" y2="205.3" stroke="#222" stroke-width="0.8"/>
<line x1="407.1" y1="350.9" x2="407.1" y2="349.4" stroke="#222" stroke-width="0.8"/>
<line x1="407.1" y1="203.8" x2="407.1" y2="205.3" stroke="#222" stroke-width="0.8"/>
<line x1="411.8" y1="350.9" x2="411.8" y2="349.4" stroke="#222" stroke-width="0.8"/>
<line x1="411.8" y1="203.8" x2="411.8" y2="205.3" stroke="#222" stroke-width="0.8"/>
<line x1="415.7" y1="350.9" x2="415.7" y2="349.4" stroke="#222" stroke-width="0.8"/>
<line x1="415.7" y1="203.8" x2="415.7" y2="205.3" stroke="#222" stroke-width="0.8"/>
<line x1="419.0" y1="350.9" x2="419.0" y2="349.4" stroke="#222" stroke-width="0.8"/>
<line x1="419.0" y1="203.8" x2="419.0" y2="205.3" stroke="#222" stroke-width="0.8"/>
<line x1="421.9" y1="350.9" x2="421.9" y2="349.4" stroke="#222" stroke-width="0.8"/>
<line x1="421.9" y1="203.8" x2="421.9" y2="205.3" stroke="#222" stroke-width="0.8"/>
<line x1="424.4" y1="350.9" x2="424.4" y2="349.4" stroke="#222" stroke-width="0.8"/>
<line x1="424.4" y1="203.8" x2="424.4" y2="205.3" stroke="#222" stroke-width="0.8"/>
<line x1="426.6" y1="350.9" x2="426.6" y2="348.4" stroke="#222" stroke-width="0.8"/>
<line x1="426.6" y1="203.8" x2="426.6" y2="206.3" stroke="#222" stroke-width="0.8"/>
<line x1="441.4" y1="350.9" x2="441.4" y2="349.4" stroke="#222" stroke-width="0.8"/>
<line x1="441.4" y1="203.8" x2="441.4" y2="205.3" stroke="#222" stroke-width="0.8"/>
<line x1="450.0" y1="350.9" x2="450.0" y2="349.4" stroke="#222" stroke-width="0.8"/>
<line x1="450.0" y1="203.8" x2="450.0" y2="205.3" stroke="#222" stroke-width="0.8"/>
<line x1="456.1" y1="350.9" x2="456.1" y2="349.4" stroke="#222" stroke-width="0.8"/>
<line x1="456.1" y1="203.8" x2="456.1" y2="205.3" stroke="#222" stroke-width="0.8"/>
<line x1="460.8" y1="350.9" x2="460.8" y2="349.4" stroke="#222" stroke-width="0.8"/>
<line x1="460.8" y1="203.8" x2="460.8" y2="205.3" stroke="#222" stroke-width="0.8"/>
<line x1="464.7" y1="350.9" x2="464.7" y2="349.4" stroke="#222" stroke-width="0.8"/>
<line x1="464.7" y1="203.8" x2="464.7" y2="205.3" stroke="#222" stroke-width="0.8"/>
<line x1="468.0" y1="350.9" x2="468.0" y2="349.4" stroke="#222" stroke-width="0.8"/>
<line x1="468.0" y1="203.8" x2="468.0" y2="205.3" stroke="#222" stroke-width="0.8"/>
<line x1="470.9" y1="350.9" x2="470.9" y2="349.4" stroke="#222" stroke-width="0.8"/>
<line x1="470.9" y1="203.8" x2="470.9" y2="205.3" stroke="#222" stroke-width="0.8"/>
<line x1="473.4" y1="350.9" x2="473.4" y2="349.4" stroke="#222" stroke-width="0.8"/>
<line x1="473.4" y1="203.8" x2="473.4" y2="205.3" stroke="#222" stroke-width="0.8"/>
<rect x="328.6" y="203.8" width="147" height="147.1" fill="none" stroke="#1a1a1a" stroke-width="1.5"/>
<text x="325.1" y="208.4" font-size="11.5" text-anchor="end" fill="#222" font-family='"Liberation Sans", sans-serif'>100</text>
<text x="325.1" y="227.6" font-size="11.5" text-anchor="end" fill="#222" font-family='"Liberation Sans", sans-serif'>50</text>
<text x="325.1" y="246.9" font-size="11.5" text-anchor="end" fill="#222" font-family='"Liberation Sans", sans-serif'>25</text>
<text x="325.1" y="272.3" font-size="11.5" text-anchor="end" fill="#222" font-family='"Liberation Sans", sans-serif'>10</text>
<text x="325.1" y="336.2" font-size="11.5" text-anchor="end" fill="#222" font-family='"Liberation Sans", sans-serif'>1</text>
<text transform="translate(335.6,362.8) rotate(-45)" font-size="11.6" text-anchor="end" fill="#222" font-family='"Liberation Sans", sans-serif'>ctrl</text>
<text transform="translate(355.1,362.8) rotate(-45)" font-size="11.6" text-anchor="end" fill="#222" font-family='"Liberation Sans", sans-serif'>0.25</text>
<text transform="translate(369.8,362.8) rotate(-45)" font-size="11.6" text-anchor="end" fill="#222" font-family='"Liberation Sans", sans-serif'>0.5</text>
<text transform="translate(384.6,362.8) rotate(-45)" font-size="11.6" text-anchor="end" fill="#222" font-family='"Liberation Sans", sans-serif'>1</text>
<text transform="translate(418.8,362.8) rotate(-45)" font-size="11.6" text-anchor="end" fill="#222" font-family='"Liberation Sans", sans-serif'>5</text>
<text transform="translate(433.6,362.8) rotate(-45)" font-size="11.6" text-anchor="end" fill="#222" font-family='"Liberation Sans", sans-serif'>10</text>
<text transform="translate(453.1,362.8) rotate(-45)" font-size="11.6" text-anchor="end" fill="#222" font-family='"Liberation Sans", sans-serif'>25</text>
<text transform="translate(467.8,362.8) rotate(-45)" font-size="11.6" text-anchor="end" fill="#222" font-family='"Liberation Sans", sans-serif'>50</text>
<text transform="translate(482.6,362.8) rotate(-45)" font-size="11.6" text-anchor="end" fill="#222" font-family='"Liberation Sans", sans-serif'>100</text>
<polyline points="328.6,331.8 348.1,327.8 362.8,325.3 377.6,322.8 411.8,291.4 420.5,276.3 426.6,268.0 446.1,244.8 460.8,234.8 469.5,228.8 475.6,219.4" fill="none" stroke="#3a7bcf" stroke-width="0.9"/>
<circle cx="328.6" cy="331.8" r="3.2" fill="none" stroke="#3a7bcf" stroke-width="0.9"/>
<circle cx="348.1" cy="327.8" r="3.2" fill="none" stroke="#3a7bcf" stroke-width="0.9"/>
<circle cx="362.8" cy="325.3" r="3.2" fill="none" stroke="#3a7bcf" stroke-width="0.9"/>
<circle cx="377.6" cy="322.8" r="3.2" fill="none" stroke="#3a7bcf" stroke-width="0.9"/>
<circle cx="411.8" cy="291.4" r="3.2" fill="none" stroke="#3a7bcf" stroke-width="0.9"/>
<circle cx="420.5" cy="276.3" r="3.2" fill="none" stroke="#3a7bcf" stroke-width="0.9"/>
<circle cx="426.6" cy="268.0" r="3.2" fill="none" stroke="#3a7bcf" stroke-width="0.9"/>
<circle cx="446.1" cy="244.8" r="3.2" fill="none" stroke="#3a7bcf" stroke-width="0.9"/>
<circle cx="460.8" cy="234.8" r="3.2" fill="none" stroke="#3a7bcf" stroke-width="0.9"/>
<circle cx="469.5" cy="228.8" r="3.2" fill="none" stroke="#3a7bcf" stroke-width="0.9"/>
<circle cx="475.6" cy="219.4" r="3.2" fill="none" stroke="#3a7bcf" stroke-width="0.9"/>
<polyline points="328.6,331.8 348.1,326.0 362.8,328.5 377.6,326.0 411.8,303.1 420.5,295.9 426.6,282.6 446.1,258.9 460.8,247.6 469.5,243.5 475.6,234.1" fill="none" stroke="#d65e2c" stroke-width="0.9"/>
<circle cx="328.6" cy="331.8" r="3.2" fill="none" stroke="#d65e2c" stroke-width="0.9"/>
<circle cx="348.1" cy="326.0" r="3.2" fill="none" stroke="#d65e2c" stroke-width="0.9"/>
<circle cx="362.8" cy="328.5" r="3.2" fill="none" stroke="#d65e2c" stroke-width="0.9"/>
<circle cx="377.6" cy="326.0" r="3.2" fill="none" stroke="#d65e2c" stroke-width="0.9"/>
<circle cx="411.8" cy="303.1" r="3.2" fill="none" stroke="#d65e2c" stroke-width="0.9"/>
<circle cx="420.5" cy="295.9" r="3.2" fill="none" stroke="#d65e2c" stroke-width="0.9"/>
<circle cx="426.6" cy="282.6" r="3.2" fill="none" stroke="#d65e2c" stroke-width="0.9"/>
<circle cx="446.1" cy="258.9" r="3.2" fill="none" stroke="#d65e2c" stroke-width="0.9"/>
<circle cx="460.8" cy="247.6" r="3.2" fill="none" stroke="#d65e2c" stroke-width="0.9"/>
<circle cx="469.5" cy="243.5" r="3.2" fill="none" stroke="#d65e2c" stroke-width="0.9"/>
<circle cx="475.6" cy="234.1" r="3.2" fill="none" stroke="#d65e2c" stroke-width="0.9"/>
<polyline points="328.6,331.8 348.1,331.0 362.8,316.1 377.6,320.3 411.8,296.4 420.5,288.8 426.6,273.8 446.1,251.3 460.8,241.0 469.5,234.8 475.6,227.0" fill="none" stroke="#e8b12a" stroke-width="0.9"/>
<circle cx="328.6" cy="331.8" r="3.2" fill="none" stroke="#e8b12a" stroke-width="0.9"/>
<circle cx="348.1" cy="331.0" r="3.2" fill="none" stroke="#e8b12a" stroke-width="0.9"/>
<circle cx="362.8" cy="316.1" r="3.2" fill="none" stroke="#e8b12a" stroke-width="0.9"/>
<circle cx="377.6" cy="320.3" r="3.2" fill="none" stroke="#e8b12a" stroke-width="0.9"/>
<circle cx="411.8" cy="296.4" r="3.2" fill="none" stroke="#e8b12a" stroke-width="0.9"/>
<circle cx="420.5" cy="288.8" r="3.2" fill="none" stroke="#e8b12a" stroke-width="0.9"/>
<circle cx="426.6" cy="273.8" r="3.2" fill="none" stroke="#e8b12a" stroke-width="0.9"/>
<circle cx="446.1" cy="251.3" r="3.2" fill="none" stroke="#e8b12a" stroke-width="0.9"/>
<circle cx="460.8" cy="241.0" r="3.2" fill="none" stroke="#e8b12a" stroke-width="0.9"/>
<circle cx="469.5" cy="234.8" r="3.2" fill="none" stroke="#e8b12a" stroke-width="0.9"/>
<circle cx="475.6" cy="227.0" r="3.2" fill="none" stroke="#e8b12a" stroke-width="0.9"/>
<polyline points="328.6,331.8 348.1,331.0 362.8,335.5 377.6,332.3 411.8,322.2 420.5,322.7 426.6,309.6 446.1,296.4 460.8,291.4 469.5,285.6 475.6,276.8" fill="none" stroke="#8245a0" stroke-width="0.9"/>
<circle cx="328.6" cy="331.8" r="3.2" fill="none" stroke="#8245a0" stroke-width="0.9"/>
<circle cx="348.1" cy="331.0" r="3.2" fill="none" stroke="#8245a0" stroke-width="0.9"/>
<circle cx="362.8" cy="335.5" r="3.2" fill="none" stroke="#8245a0" stroke-width="0.9"/>
<circle cx="377.6" cy="332.3" r="3.2" fill="none" stroke="#8245a0" stroke-width="0.9"/>
<circle cx="411.8" cy="322.2" r="3.2" fill="none" stroke="#8245a0" stroke-width="0.9"/>
<circle cx="420.5" cy="322.7" r="3.2" fill="none" stroke="#8245a0" stroke-width="0.9"/>
<circle cx="426.6" cy="309.6" r="3.2" fill="none" stroke="#8245a0" stroke-width="0.9"/>
<circle cx="446.1" cy="296.4" r="3.2" fill="none" stroke="#8245a0" stroke-width="0.9"/>
<circle cx="460.8" cy="291.4" r="3.2" fill="none" stroke="#8245a0" stroke-width="0.9"/>
<circle cx="469.5" cy="285.6" r="3.2" fill="none" stroke="#8245a0" stroke-width="0.9"/>
<circle cx="475.6" cy="276.8" r="3.2" fill="none" stroke="#8245a0" stroke-width="0.9"/>
<rect x="332.3" y="206.60000000000002" width="91" height="57.5" fill="#fff" stroke="#1a1a1a" stroke-width="1.1"/>
<line x1="334.5" y1="214.4" x2="346.1" y2="214.4" stroke="#3a7bcf" stroke-width="0.9"/>
<circle cx="340.3" cy="214.4" r="3.2" fill="none" stroke="#3a7bcf" stroke-width="0.9"/>
<text x="346.8" y="218.5" font-size="11.7" fill="#111" font-family='"Liberation Sans", sans-serif'>808nm LP</text>
<line x1="334.5" y1="228.5" x2="346.1" y2="228.5" stroke="#d65e2c" stroke-width="0.9"/>
<circle cx="340.3" cy="228.5" r="3.2" fill="none" stroke="#d65e2c" stroke-width="0.9"/>
<text x="346.8" y="232.6" font-size="11.7" fill="#111" font-family='"Liberation Sans", sans-serif'>Dbl 830nm LP</text>
<line x1="334.5" y1="242.6" x2="346.1" y2="242.6" stroke="#e8b12a" stroke-width="0.9"/>
<circle cx="340.3" cy="242.6" r="3.2" fill="none" stroke="#e8b12a" stroke-width="0.9"/>
<text x="346.8" y="246.7" font-size="11.7" fill="#111" font-family='"Liberation Sans", sans-serif'>832nm BP</text>
<line x1="334.5" y1="256.7" x2="346.1" y2="256.7" stroke="#8245a0" stroke-width="0.9"/>
<circle cx="340.3" cy="256.7" r="3.2" fill="none" stroke="#8245a0" stroke-width="0.9"/>
<text x="346.8" y="260.8" font-size="11.7" fill="#111" font-family='"Liberation Sans", sans-serif'>830 nm LP</text>
<text transform="translate(305.8,281.2) rotate(-90)" font-size="19" text-anchor="middle" textLength="152.5" lengthAdjust="spacingAndGlyphs" fill="#222" font-family='"Liberation Sans", sans-serif'>Fluorescence SBR</text>
<text x="401.1" y="391.5" font-size="11.7" text-anchor="middle" textLength="136" lengthAdjust="spacingAndGlyphs" fill="#222" font-family='"Liberation Sans", sans-serif'>IR-125 concentration (nM)</text>
<text x="489.2" y="20.3" font-size="22" textLength="14" lengthAdjust="spacingAndGlyphs" font-family='"Liberation Sans", sans-serif'>D</text>
<text x="555.8" y="17.2" font-size="15.8" textLength="87.5" lengthAdjust="spacingAndGlyphs" fill="#222" font-family='"Liberation Sans", sans-serif'>13.5 mW/cm</text>
<text x="644.0" y="12.6" font-size="10.5" fill="#222" font-family='"Liberation Sans", sans-serif'>2</text>
<line x1="531" y1="162.7" x2="532.5" y2="162.7" stroke="#222" stroke-width="0.8"/>
<line x1="678" y1="162.7" x2="676.5" y2="162.7" stroke="#222" stroke-width="0.8"/>
<line x1="531" y1="158.4" x2="532.5" y2="158.4" stroke="#222" stroke-width="0.8"/>
<line x1="678" y1="158.4" x2="676.5" y2="158.4" stroke="#222" stroke-width="0.8"/>
<line x1="531" y1="154.7" x2="532.5" y2="154.7" stroke="#222" stroke-width="0.8"/>
<line x1="678" y1="154.7" x2="676.5" y2="154.7" stroke="#222" stroke-width="0.8"/>
<line x1="531" y1="151.4" x2="532.5" y2="151.4" stroke="#222" stroke-width="0.8"/>
<line x1="678" y1="151.4" x2="676.5" y2="151.4" stroke="#222" stroke-width="0.8"/>
<line x1="531" y1="148.5" x2="533.5" y2="148.5" stroke="#222" stroke-width="0.8"/>
<line x1="678" y1="148.5" x2="675.5" y2="148.5" stroke="#222" stroke-width="0.8"/>
<line x1="531" y1="129.2" x2="532.5" y2="129.2" stroke="#222" stroke-width="0.8"/>
<line x1="678" y1="129.2" x2="676.5" y2="129.2" stroke="#222" stroke-width="0.8"/>
<line x1="531" y1="117.9" x2="532.5" y2="117.9" stroke="#222" stroke-width="0.8"/>
<line x1="678" y1="117.9" x2="676.5" y2="117.9" stroke="#222" stroke-width="0.8"/>
<line x1="531" y1="109.9" x2="532.5" y2="109.9" stroke="#222" stroke-width="0.8"/>
<line x1="678" y1="109.9" x2="676.5" y2="109.9" stroke="#222" stroke-width="0.8"/>
<line x1="531" y1="103.7" x2="532.5" y2="103.7" stroke="#222" stroke-width="0.8"/>
<line x1="678" y1="103.7" x2="676.5" y2="103.7" stroke="#222" stroke-width="0.8"/>
<line x1="531" y1="98.7" x2="532.5" y2="98.7" stroke="#222" stroke-width="0.8"/>
<line x1="678" y1="98.7" x2="676.5" y2="98.7" stroke="#222" stroke-width="0.8"/>
<line x1="531" y1="94.4" x2="532.5" y2="94.4" stroke="#222" stroke-width="0.8"/>
<line x1="678" y1="94.4" x2="676.5" y2="94.4" stroke="#222" stroke-width="0.8"/>
<line x1="531" y1="90.7" x2="532.5" y2="90.7" stroke="#222" stroke-width="0.8"/>
<line x1="678" y1="90.7" x2="676.5" y2="90.7" stroke="#222" stroke-width="0.8"/>
<line x1="531" y1="87.4" x2="532.5" y2="87.4" stroke="#222" stroke-width="0.8"/>
<line x1="678" y1="87.4" x2="676.5" y2="87.4" stroke="#222" stroke-width="0.8"/>
<line x1="531" y1="84.5" x2="533.5" y2="84.5" stroke="#222" stroke-width="0.8"/>
<line x1="678" y1="84.5" x2="675.5" y2="84.5" stroke="#222" stroke-width="0.8"/>
<line x1="531" y1="65.2" x2="532.5" y2="65.2" stroke="#222" stroke-width="0.8"/>
<line x1="678" y1="65.2" x2="676.5" y2="65.2" stroke="#222" stroke-width="0.8"/>
<line x1="531" y1="53.9" x2="532.5" y2="53.9" stroke="#222" stroke-width="0.8"/>
<line x1="678" y1="53.9" x2="676.5" y2="53.9" stroke="#222" stroke-width="0.8"/>
<line x1="531" y1="45.9" x2="532.5" y2="45.9" stroke="#222" stroke-width="0.8"/>
<line x1="678" y1="45.9" x2="676.5" y2="45.9" stroke="#222" stroke-width="0.8"/>
<line x1="531" y1="39.7" x2="532.5" y2="39.7" stroke="#222" stroke-width="0.8"/>
<line x1="678" y1="39.7" x2="676.5" y2="39.7" stroke="#222" stroke-width="0.8"/>
<line x1="531" y1="34.6" x2="532.5" y2="34.6" stroke="#222" stroke-width="0.8"/>
<line x1="678" y1="34.6" x2="676.5" y2="34.6" stroke="#222" stroke-width="0.8"/>
<line x1="531" y1="30.3" x2="532.5" y2="30.3" stroke="#222" stroke-width="0.8"/>
<line x1="678" y1="30.3" x2="676.5" y2="30.3" stroke="#222" stroke-width="0.8"/>
<line x1="531" y1="26.6" x2="532.5" y2="26.6" stroke="#222" stroke-width="0.8"/>
<line x1="678" y1="26.6" x2="676.5" y2="26.6" stroke="#222" stroke-width="0.8"/>
<line x1="531" y1="23.3" x2="532.5" y2="23.3" stroke="#222" stroke-width="0.8"/>
<line x1="678" y1="23.3" x2="676.5" y2="23.3" stroke="#222" stroke-width="0.8"/>
<line x1="531.0" y1="166.7" x2="531.0" y2="164.2" stroke="#222" stroke-width="0.8"/>
<line x1="531.0" y1="20.4" x2="531.0" y2="22.9" stroke="#222" stroke-width="0.8"/>
<line x1="545.8" y1="166.7" x2="545.8" y2="165.2" stroke="#222" stroke-width="0.8"/>
<line x1="545.8" y1="20.4" x2="545.8" y2="21.9" stroke="#222" stroke-width="0.8"/>
<line x1="554.4" y1="166.7" x2="554.4" y2="165.2" stroke="#222" stroke-width="0.8"/>
<line x1="554.4" y1="20.4" x2="554.4" y2="21.9" stroke="#222" stroke-width="0.8"/>
<line x1="560.5" y1="166.7" x2="560.5" y2="165.2" stroke="#222" stroke-width="0.8"/>
<line x1="560.5" y1="20.4" x2="560.5" y2="21.9" stroke="#222" stroke-width="0.8"/>
<line x1="565.2" y1="166.7" x2="565.2" y2="165.2" stroke="#222" stroke-width="0.8"/>
<line x1="565.2" y1="20.4" x2="565.2" y2="21.9" stroke="#222" stroke-width="0.8"/>
<line x1="569.1" y1="166.7" x2="569.1" y2="165.2" stroke="#222" stroke-width="0.8"/>
<line x1="569.1" y1="20.4" x2="569.1" y2="21.9" stroke="#222" stroke-width="0.8"/>
<line x1="572.4" y1="166.7" x2="572.4" y2="165.2" stroke="#222" stroke-width="0.8"/>
<line x1="572.4" y1="20.4" x2="572.4" y2="21.9" stroke="#222" stroke-width="0.8"/>
<line x1="575.3" y1="166.7" x2="575.3" y2="165.2" stroke="#222" stroke-width="0.8"/>
<line x1="575.3" y1="20.4" x2="575.3" y2="21.9" stroke="#222" stroke-width="0.8"/>
<line x1="577.8" y1="166.7" x2="577.8" y2="165.2" stroke="#222" stroke-width="0.8"/>
<line x1="577.8" y1="20.4" x2="577.8" y2="21.9" stroke="#222" stroke-width="0.8"/>
<line x1="580.0" y1="166.7" x2="580.0" y2="164.2" stroke="#222" stroke-width="0.8"/>
<line x1="580.0" y1="20.4" x2="580.0" y2="22.9" stroke="#222" stroke-width="0.8"/>
<line x1="594.8" y1="166.7" x2="594.8" y2="165.2" stroke="#222" stroke-width="0.8"/>
<line x1="594.8" y1="20.4" x2="594.8" y2="21.9" stroke="#222" stroke-width="0.8"/>
<line x1="603.4" y1="166.7" x2="603.4" y2="165.2" stroke="#222" stroke-width="0.8"/>
<line x1="603.4" y1="20.4" x2="603.4" y2="21.9" stroke="#222" stroke-width="0.8"/>
<line x1="609.5" y1="166.7" x2="609.5" y2="165.2" stroke="#222" stroke-width="0.8"/>
<line x1="609.5" y1="20.4" x2="609.5" y2="21.9" stroke="#222" stroke-width="0.8"/>
<line x1="614.2" y1="166.7" x2="614.2" y2="165.2" stroke="#222" stroke-width="0.8"/>
<line x1="614.2" y1="20.4" x2="614.2" y2="21.9" stroke="#222" stroke-width="0.8"/>
<line x1="618.1" y1="166.7" x2="618.1" y2="165.2" stroke="#222" stroke-width="0.8"/>
<line x1="618.1" y1="20.4" x2="618.1" y2="21.9" stroke="#222" stroke-width="0.8"/>
<line x1="621.4" y1="166.7" x2="621.4" y2="165.2" stroke="#222" stroke-width="0.8"/>
<line x1="621.4" y1="20.4" x2="621.4" y2="21.9" stroke="#222" stroke-width="0.8"/>
<line x1="624.3" y1="166.7" x2="624.3" y2="165.2" stroke="#222" stroke-width="0.8"/>
<line x1="624.3" y1="20.4" x2="624.3" y2="21.9" stroke="#222" stroke-width="0.8"/>
<line x1="626.8" y1="166.7" x2="626.8" y2="165.2" stroke="#222" stroke-width="0.8"/>
<line x1="626.8" y1="20.4" x2="626.8" y2="21.9" stroke="#222" stroke-width="0.8"/>
<line x1="629.0" y1="166.7" x2="629.0" y2="164.2" stroke="#222" stroke-width="0.8"/>
<line x1="629.0" y1="20.4" x2="629.0" y2="22.9" stroke="#222" stroke-width="0.8"/>
<line x1="643.8" y1="166.7" x2="643.8" y2="165.2" stroke="#222" stroke-width="0.8"/>
<line x1="643.8" y1="20.4" x2="643.8" y2="21.9" stroke="#222" stroke-width="0.8"/>
<line x1="652.4" y1="166.7" x2="652.4" y2="165.2" stroke="#222" stroke-width="0.8"/>
<line x1="652.4" y1="20.4" x2="652.4" y2="21.9" stroke="#222" stroke-width="0.8"/>
<line x1="658.5" y1="166.7" x2="658.5" y2="165.2" stroke="#222" stroke-width="0.8"/>
<line x1="658.5" y1="20.4" x2="658.5" y2="21.9" stroke="#222" stroke-width="0.8"/>
<line x1="663.2" y1="166.7" x2="663.2" y2="165.2" stroke="#222" stroke-width="0.8"/>
<line x1="663.2" y1="20.4" x2="663.2" y2="21.9" stroke="#222" stroke-width="0.8"/>
<line x1="667.1" y1="166.7" x2="667.1" y2="165.2" stroke="#222" stroke-width="0.8"/>
<line x1="667.1" y1="20.4" x2="667.1" y2="21.9" stroke="#222" stroke-width="0.8"/>
<line x1="670.4" y1="166.7" x2="670.4" y2="165.2" stroke="#222" stroke-width="0.8"/>
<line x1="670.4" y1="20.4" x2="670.4" y2="21.9" stroke="#222" stroke-width="0.8"/>
<line x1="673.3" y1="166.7" x2="673.3" y2="165.2" stroke="#222" stroke-width="0.8"/>
<line x1="673.3" y1="20.4" x2="673.3" y2="21.9" stroke="#222" stroke-width="0.8"/>
<line x1="675.8" y1="166.7" x2="675.8" y2="165.2" stroke="#222" stroke-width="0.8"/>
<line x1="675.8" y1="20.4" x2="675.8" y2="21.9" stroke="#222" stroke-width="0.8"/>
<rect x="531" y="20.4" width="147" height="146.3" fill="none" stroke="#1a1a1a" stroke-width="1.5"/>
<text x="527.5" y="25.0" font-size="11.5" text-anchor="end" fill="#222" font-family='"Liberation Sans", sans-serif'>100</text>
<text x="527.5" y="44.3" font-size="11.5" text-anchor="end" fill="#222" font-family='"Liberation Sans", sans-serif'>50</text>
<text x="527.5" y="63.6" font-size="11.5" text-anchor="end" fill="#222" font-family='"Liberation Sans", sans-serif'>25</text>
<text x="527.5" y="89.0" font-size="11.5" text-anchor="end" fill="#222" font-family='"Liberation Sans", sans-serif'>10</text>
<text x="527.5" y="153.1" font-size="11.5" text-anchor="end" fill="#222" font-family='"Liberation Sans", sans-serif'>1</text>
<text transform="translate(538.0,179.5) rotate(-45)" font-size="11.6" text-anchor="end" fill="#222" font-family='"Liberation Sans", sans-serif'>ctrl</text>
<text transform="translate(557.5,179.5) rotate(-45)" font-size="11.6" text-anchor="end" fill="#222" font-family='"Liberation Sans", sans-serif'>0.25</text>
<text transform="translate(572.2,179.5) rotate(-45)" font-size="11.6" text-anchor="end" fill="#222" font-family='"Liberation Sans", sans-serif'>0.5</text>
<text transform="translate(587.0,179.5) rotate(-45)" font-size="11.6" text-anchor="end" fill="#222" font-family='"Liberation Sans", sans-serif'>1</text>
<text transform="translate(621.2,179.5) rotate(-45)" font-size="11.6" text-anchor="end" fill="#222" font-family='"Liberation Sans", sans-serif'>5</text>
<text transform="translate(636.0,179.5) rotate(-45)" font-size="11.6" text-anchor="end" fill="#222" font-family='"Liberation Sans", sans-serif'>10</text>
<text transform="translate(655.5,179.5) rotate(-45)" font-size="11.6" text-anchor="end" fill="#222" font-family='"Liberation Sans", sans-serif'>25</text>
<text transform="translate(670.2,179.5) rotate(-45)" font-size="11.6" text-anchor="end" fill="#222" font-family='"Liberation Sans", sans-serif'>50</text>
<text transform="translate(685.0,179.5) rotate(-45)" font-size="11.6" text-anchor="end" fill="#222" font-family='"Liberation Sans", sans-serif'>100</text>
<polyline points="531.0,147.7 550.5,137.6 565.2,142.1 580.0,138.7 614.2,114.8 622.9,105.1 629.0,89.3 648.5,67.6 663.2,66.4 671.9,50.0 678.0,38.0" fill="none" stroke="#3a7bcf" stroke-width="0.9"/>
<circle cx="531.0" cy="147.7" r="3.2" fill="none" stroke="#3a7bcf" stroke-width="0.9"/>
<circle cx="550.5" cy="137.6" r="3.2" fill="none" stroke="#3a7bcf" stroke-width="0.9"/>
<circle cx="565.2" cy="142.1" r="3.2" fill="none" stroke="#3a7bcf" stroke-width="0.9"/>
<circle cx="580.0" cy="138.7" r="3.2" fill="none" stroke="#3a7bcf" stroke-width="0.9"/>
<circle cx="614.2" cy="114.8" r="3.2" fill="none" stroke="#3a7bcf" stroke-width="0.9"/>
<circle cx="622.9" cy="105.1" r="3.2" fill="none" stroke="#3a7bcf" stroke-width="0.9"/>
<circle cx="629.0" cy="89.3" r="3.2" fill="none" stroke="#3a7bcf" stroke-width="0.9"/>
<circle cx="648.5" cy="67.6" r="3.2" fill="none" stroke="#3a7bcf" stroke-width="0.9"/>
<circle cx="663.2" cy="66.4" r="3.2" fill="none" stroke="#3a7bcf" stroke-width="0.9"/>
<circle cx="671.9" cy="50.0" r="3.2" fill="none" stroke="#3a7bcf" stroke-width="0.9"/>
<circle cx="678.0" cy="38.0" r="3.2" fill="none" stroke="#3a7bcf" stroke-width="0.9"/>
<polyline points="531.0,141.0 550.5,141.7 565.2,135.4 580.0,134.2 614.2,118.6 622.9,109.9 629.0,96.0 648.5,82.7 663.2,72.1 671.9,53.8 678.0,47.0" fill="none" stroke="#d65e2c" stroke-width="0.9"/>
<circle cx="531.0" cy="141.0" r="3.2" fill="none" stroke="#d65e2c" stroke-width="0.9"/>
<circle cx="550.5" cy="141.7" r="3.2" fill="none" stroke="#d65e2c" stroke-width="0.9"/>
<circle cx="565.2" cy="135.4" r="3.2" fill="none" stroke="#d65e2c" stroke-width="0.9"/>
<circle cx="580.0" cy="134.2" r="3.2" fill="none" stroke="#d65e2c" stroke-width="0.9"/>
<circle cx="614.2" cy="118.6" r="3.2" fill="none" stroke="#d65e2c" stroke-width="0.9"/>
<circle cx="622.9" cy="109.9" r="3.2" fill="none" stroke="#d65e2c" stroke-width="0.9"/>
<circle cx="629.0" cy="96.0" r="3.2" fill="none" stroke="#d65e2c" stroke-width="0.9"/>
<circle cx="648.5" cy="82.7" r="3.2" fill="none" stroke="#d65e2c" stroke-width="0.9"/>
<circle cx="663.2" cy="72.1" r="3.2" fill="none" stroke="#d65e2c" stroke-width="0.9"/>
<circle cx="671.9" cy="53.8" r="3.2" fill="none" stroke="#d65e2c" stroke-width="0.9"/>
<circle cx="678.0" cy="47.0" r="3.2" fill="none" stroke="#d65e2c" stroke-width="0.9"/>
<polyline points="531.0,128.6 550.5,130.4 565.2,122.3 580.0,115.5 614.2,110.0 622.9,103.3 629.0,87.3 648.5,66.4 663.2,58.8 671.9,45.1 678.0,40.0" fill="none" stroke="#e8b12a" stroke-width="0.9"/>
<circle cx="531.0" cy="128.6" r="3.2" fill="none" stroke="#e8b12a" stroke-width="0.9"/>
<circle cx="550.5" cy="130.4" r="3.2" fill="none" stroke="#e8b12a" stroke-width="0.9"/>
<circle cx="565.2" cy="122.3" r="3.2" fill="none" stroke="#e8b12a" stroke-width="0.9"/>
<circle cx="580.0" cy="115.5" r="3.2" fill="none" stroke="#e8b12a" stroke-width="0.9"/>
<circle cx="614.2" cy="110.0" r="3.2" fill="none" stroke="#e8b12a" stroke-width="0.9"/>
<circle cx="622.9" cy="103.3" r="3.2" fill="none" stroke="#e8b12a" stroke-width="0.9"/>
<circle cx="629.0" cy="87.3" r="3.2" fill="none" stroke="#e8b12a" stroke-width="0.9"/>
<circle cx="648.5" cy="66.4" r="3.2" fill="none" stroke="#e8b12a" stroke-width="0.9"/>
<circle cx="663.2" cy="58.8" r="3.2" fill="none" stroke="#e8b12a" stroke-width="0.9"/>
<circle cx="671.9" cy="45.1" r="3.2" fill="none" stroke="#e8b12a" stroke-width="0.9"/>
<circle cx="678.0" cy="40.0" r="3.2" fill="none" stroke="#e8b12a" stroke-width="0.9"/>
<polyline points="531.0,98.8 550.5,97.7 565.2,101.1 580.0,102.1 614.2,84.3 622.9,98.3 629.0,78.8 648.5,72.1 663.2,65.9 671.9,51.3 678.0,46.3" fill="none" stroke="#8245a0" stroke-width="0.9"/>
<circle cx="531.0" cy="98.8" r="3.2" fill="none" stroke="#8245a0" stroke-width="0.9"/>
<circle cx="550.5" cy="97.7" r="3.2" fill="none" stroke="#8245a0" stroke-width="0.9"/>
<circle cx="565.2" cy="101.1" r="3.2" fill="none" stroke="#8245a0" stroke-width="0.9"/>
<circle cx="580.0" cy="102.1" r="3.2" fill="none" stroke="#8245a0" stroke-width="0.9"/>
<circle cx="614.2" cy="84.3" r="3.2" fill="none" stroke="#8245a0" stroke-width="0.9"/>
<circle cx="622.9" cy="98.3" r="3.2" fill="none" stroke="#8245a0" stroke-width="0.9"/>
<circle cx="629.0" cy="78.8" r="3.2" fill="none" stroke="#8245a0" stroke-width="0.9"/>
<circle cx="648.5" cy="72.1" r="3.2" fill="none" stroke="#8245a0" stroke-width="0.9"/>
<circle cx="663.2" cy="65.9" r="3.2" fill="none" stroke="#8245a0" stroke-width="0.9"/>
<circle cx="671.9" cy="51.3" r="3.2" fill="none" stroke="#8245a0" stroke-width="0.9"/>
<circle cx="678.0" cy="46.3" r="3.2" fill="none" stroke="#8245a0" stroke-width="0.9"/>
<text transform="translate(507.8,95) rotate(-90)" font-size="19" text-anchor="middle" textLength="120" lengthAdjust="spacingAndGlyphs" fill="#222" font-family='"Liberation Sans", sans-serif'>Pixel Intensity</text>
<line x1="531.6" y1="347.4" x2="533.1" y2="347.4" stroke="#222" stroke-width="0.8"/>
<line x1="678.6" y1="347.4" x2="677.1" y2="347.4" stroke="#222" stroke-width="0.8"/>
<line x1="531.6" y1="343.1" x2="533.1" y2="343.1" stroke="#222" stroke-width="0.8"/>
<line x1="678.6" y1="343.1" x2="677.1" y2="343.1" stroke="#222" stroke-width="0.8"/>
<line x1="531.6" y1="339.4" x2="533.1" y2="339.4" stroke="#222" stroke-width="0.8"/>
<line x1="678.6" y1="339.4" x2="677.1" y2="339.4" stroke="#222" stroke-width="0.8"/>
<line x1="531.6" y1="336.1" x2="533.1" y2="336.1" stroke="#222" stroke-width="0.8"/>
<line x1="678.6" y1="336.1" x2="677.1" y2="336.1" stroke="#222" stroke-width="0.8"/>
<line x1="531.6" y1="333.2" x2="534.1" y2="333.2" stroke="#222" stroke-width="0.8"/>
<line x1="678.6" y1="333.2" x2="676.1" y2="333.2" stroke="#222" stroke-width="0.8"/>
<line x1="531.6" y1="314.0" x2="533.1" y2="314.0" stroke="#222" stroke-width="0.8"/>
<line x1="678.6" y1="314.0" x2="677.1" y2="314.0" stroke="#222" stroke-width="0.8"/>
<line x1="531.6" y1="302.7" x2="533.1" y2="302.7" stroke="#222" stroke-width="0.8"/>
<line x1="678.6" y1="302.7" x2="677.1" y2="302.7" stroke="#222" stroke-width="0.8"/>
<line x1="531.6" y1="294.7" x2="533.1" y2="294.7" stroke="#222" stroke-width="0.8"/>
<line x1="678.6" y1="294.7" x2="677.1" y2="294.7" stroke="#222" stroke-width="0.8"/>
<line x1="531.6" y1="288.5" x2="533.1" y2="288.5" stroke="#222" stroke-width="0.8"/>
<line x1="678.6" y1="288.5" x2="677.1" y2="288.5" stroke="#222" stroke-width="0.8"/>
<line x1="531.6" y1="283.5" x2="533.1" y2="283.5" stroke="#222" stroke-width="0.8"/>
<line x1="678.6" y1="283.5" x2="677.1" y2="283.5" stroke="#222" stroke-width="0.8"/>
<line x1="531.6" y1="279.2" x2="533.1" y2="279.2" stroke="#222" stroke-width="0.8"/>
<line x1="678.6" y1="279.2" x2="677.1" y2="279.2" stroke="#222" stroke-width="0.8"/>
<line x1="531.6" y1="275.5" x2="533.1" y2="275.5" stroke="#222" stroke-width="0.8"/>
<line x1="678.6" y1="275.5" x2="677.1" y2="275.5" stroke="#222" stroke-width="0.8"/>
<line x1="531.6" y1="272.2" x2="533.1" y2="272.2" stroke="#222" stroke-width="0.8"/>
<line x1="678.6" y1="272.2" x2="677.1" y2="272.2" stroke="#222" stroke-width="0.8"/>
<line x1="531.6" y1="269.3" x2="534.1" y2="269.3" stroke="#222" stroke-width="0.8"/>
<line x1="678.6" y1="269.3" x2="676.1" y2="269.3" stroke="#222" stroke-width="0.8"/>
<line x1="531.6" y1="250.1" x2="533.1" y2="250.1" stroke="#222" stroke-width="0.8"/>
<line x1="678.6" y1="250.1" x2="677.1" y2="250.1" stroke="#222" stroke-width="0.8"/>
<line x1="531.6" y1="238.8" x2="533.1" y2="238.8" stroke="#222" stroke-width="0.8"/>
<line x1="678.6" y1="238.8" x2="677.1" y2="238.8" stroke="#222" stroke-width="0.8"/>
<line x1="531.6" y1="230.8" x2="533.1" y2="230.8" stroke="#222" stroke-width="0.8"/>
<line x1="678.6" y1="230.8" x2="677.1" y2="230.8" stroke="#222" stroke-width="0.8"/>
<line x1="531.6" y1="224.6" x2="533.1" y2="224.6" stroke="#222" stroke-width="0.8"/>
<line x1="678.6" y1="224.6" x2="677.1" y2="224.6" stroke="#222" stroke-width="0.8"/>
<line x1="531.6" y1="219.6" x2="533.1" y2="219.6" stroke="#222" stroke-width="0.8"/>
<line x1="678.6" y1="219.6" x2="677.1" y2="219.6" stroke="#222" stroke-width="0.8"/>
<line x1="531.6" y1="215.3" x2="533.1" y2="215.3" stroke="#222" stroke-width="0.8"/>
<line x1="678.6" y1="215.3" x2="677.1" y2="215.3" stroke="#222" stroke-width="0.8"/>
<line x1="531.6" y1="211.6" x2="533.1" y2="211.6" stroke="#222" stroke-width="0.8"/>
<line x1="678.6" y1="211.6" x2="677.1" y2="211.6" stroke="#222" stroke-width="0.8"/>
<line x1="531.6" y1="208.3" x2="533.1" y2="208.3" stroke="#222" stroke-width="0.8"/>
<line x1="678.6" y1="208.3" x2="677.1" y2="208.3" stroke="#222" stroke-width="0.8"/>
<line x1="531.6" y1="352.1" x2="531.6" y2="349.6" stroke="#222" stroke-width="0.8"/>
<line x1="531.6" y1="205" x2="531.6" y2="207.5" stroke="#222" stroke-width="0.8"/>
<line x1="546.4" y1="352.1" x2="546.4" y2="350.6" stroke="#222" stroke-width="0.8"/>
<line x1="546.4" y1="205" x2="546.4" y2="206.5" stroke="#222" stroke-width="0.8"/>
<line x1="555.0" y1="352.1" x2="555.0" y2="350.6" stroke="#222" stroke-width="0.8"/>
<line x1="555.0" y1="205" x2="555.0" y2="206.5" stroke="#222" stroke-width="0.8"/>
<line x1="561.1" y1="352.1" x2="561.1" y2="350.6" stroke="#222" stroke-width="0.8"/>
<line x1="561.1" y1="205" x2="561.1" y2="206.5" stroke="#222" stroke-width="0.8"/>
<line x1="565.8" y1="352.1" x2="565.8" y2="350.6" stroke="#222" stroke-width="0.8"/>
<line x1="565.8" y1="205" x2="565.8" y2="206.5" stroke="#222" stroke-width="0.8"/>
<line x1="569.7" y1="352.1" x2="569.7" y2="350.6" stroke="#222" stroke-width="0.8"/>
<line x1="569.7" y1="205" x2="569.7" y2="206.5" stroke="#222" stroke-width="0.8"/>
<line x1="573.0" y1="352.1" x2="573.0" y2="350.6" stroke="#222" stroke-width="0.8"/>
<line x1="573.0" y1="205" x2="573.0" y2="206.5" stroke="#222" stroke-width="0.8"/>
<line x1="575.9" y1="352.1" x2="575.9" y2="350.6" stroke="#222" stroke-width="0.8"/>
<line x1="575.9" y1="205" x2="575.9" y2="206.5" stroke="#222" stroke-width="0.8"/>
<line x1="578.4" y1="352.1" x2="578.4" y2="350.6" stroke="#222" stroke-width="0.8"/>
<line x1="578.4" y1="205" x2="578.4" y2="206.5" stroke="#222" stroke-width="0.8"/>
<line x1="580.6" y1="352.1" x2="580.6" y2="349.6" stroke="#222" stroke-width="0.8"/>
<line x1="580.6" y1="205" x2="580.6" y2="207.5" stroke="#222" stroke-width="0.8"/>
<line x1="595.4" y1="352.1" x2="595.4" y2="350.6" stroke="#222" stroke-width="0.8"/>
<line x1="595.4" y1="205" x2="595.4" y2="206.5" stroke="#222" stroke-width="0.8"/>
<line x1="604.0" y1="352.1" x2="604.0" y2="350.6" stroke="#222" stroke-width="0.8"/>
<line x1="604.0" y1="205" x2="604.0" y2="206.5" stroke="#222" stroke-width="0.8"/>
<line x1="610.1" y1="352.1" x2="610.1" y2="350.6" stroke="#222" stroke-width="0.8"/>
<line x1="610.1" y1="205" x2="610.1" y2="206.5" stroke="#222" stroke-width="0.8"/>
<line x1="614.8" y1="352.1" x2="614.8" y2="350.6" stroke="#222" stroke-width="0.8"/>
<line x1="614.8" y1="205" x2="614.8" y2="206.5" stroke="#222" stroke-width="0.8"/>
<line x1="618.7" y1="352.1" x2="618.7" y2="350.6" stroke="#222" stroke-width="0.8"/>
<line x1="618.7" y1="205" x2="618.7" y2="206.5" stroke="#222" stroke-width="0.8"/>
<line x1="622.0" y1="352.1" x2="622.0" y2="350.6" stroke="#222" stroke-width="0.8"/>
<line x1="622.0" y1="205" x2="622.0" y2="206.5" stroke="#222" stroke-width="0.8"/>
<line x1="624.9" y1="352.1" x2="624.9" y2="350.6" stroke="#222" stroke-width="0.8"/>
<line x1="624.9" y1="205" x2="624.9" y2="206.5" stroke="#222" stroke-width="0.8"/>
<line x1="627.4" y1="352.1" x2="627.4" y2="350.6" stroke="#222" stroke-width="0.8"/>
<line x1="627.4" y1="205" x2="627.4" y2="206.5" stroke="#222" stroke-width="0.8"/>
<line x1="629.6" y1="352.1" x2="629.6" y2="349.6" stroke="#222" stroke-width="0.8"/>
<line x1="629.6" y1="205" x2="629.6" y2="207.5" stroke="#222" stroke-width="0.8"/>
<line x1="644.4" y1="352.1" x2="644.4" y2="350.6" stroke="#222" stroke-width="0.8"/>
<line x1="644.4" y1="205" x2="644.4" y2="206.5" stroke="#222" stroke-width="0.8"/>
<line x1="653.0" y1="352.1" x2="653.0" y2="350.6" stroke="#222" stroke-width="0.8"/>
<line x1="653.0" y1="205" x2="653.0" y2="206.5" stroke="#222" stroke-width="0.8"/>
<line x1="659.1" y1="352.1" x2="659.1" y2="350.6" stroke="#222" stroke-width="0.8"/>
<line x1="659.1" y1="205" x2="659.1" y2="206.5" stroke="#222" stroke-width="0.8"/>
<line x1="663.8" y1="352.1" x2="663.8" y2="350.6" stroke="#222" stroke-width="0.8"/>
<line x1="663.8" y1="205" x2="663.8" y2="206.5" stroke="#222" stroke-width="0.8"/>
<line x1="667.7" y1="352.1" x2="667.7" y2="350.6" stroke="#222" stroke-width="0.8"/>
<line x1="667.7" y1="205" x2="667.7" y2="206.5" stroke="#222" stroke-width="0.8"/>
<line x1="671.0" y1="352.1" x2="671.0" y2="350.6" stroke="#222" stroke-width="0.8"/>
<line x1="671.0" y1="205" x2="671.0" y2="206.5" stroke="#222" stroke-width="0.8"/>
<line x1="673.9" y1="352.1" x2="673.9" y2="350.6" stroke="#222" stroke-width="0.8"/>
<line x1="673.9" y1="205" x2="673.9" y2="206.5" stroke="#222" stroke-width="0.8"/>
<line x1="676.4" y1="352.1" x2="676.4" y2="350.6" stroke="#222" stroke-width="0.8"/>
<line x1="676.4" y1="205" x2="676.4" y2="206.5" stroke="#222" stroke-width="0.8"/>
<rect x="531.6" y="205" width="147" height="147.1" fill="none" stroke="#1a1a1a" stroke-width="1.5"/>
<text x="528.1" y="210.0" font-size="11.5" text-anchor="end" fill="#222" font-family='"Liberation Sans", sans-serif'>100</text>
<text x="528.1" y="229.2" font-size="11.5" text-anchor="end" fill="#222" font-family='"Liberation Sans", sans-serif'>50</text>
<text x="528.1" y="248.5" font-size="11.5" text-anchor="end" fill="#222" font-family='"Liberation Sans", sans-serif'>25</text>
<text x="528.1" y="273.9" font-size="11.5" text-anchor="end" fill="#222" font-family='"Liberation Sans", sans-serif'>10</text>
<text x="528.1" y="337.8" font-size="11.5" text-anchor="end" fill="#222" font-family='"Liberation Sans", sans-serif'>1</text>
<text transform="translate(538.6,364.0) rotate(-45)" font-size="11.6" text-anchor="end" fill="#222" font-family='"Liberation Sans", sans-serif'>ctrl</text>
<text transform="translate(558.1,364.0) rotate(-45)" font-size="11.6" text-anchor="end" fill="#222" font-family='"Liberation Sans", sans-serif'>0.25</text>
<text transform="translate(572.8,364.0) rotate(-45)" font-size="11.6" text-anchor="end" fill="#222" font-family='"Liberation Sans", sans-serif'>0.5</text>
<text transform="translate(587.6,364.0) rotate(-45)" font-size="11.6" text-anchor="end" fill="#222" font-family='"Liberation Sans", sans-serif'>1</text>
<text transform="translate(621.8,364.0) rotate(-45)" font-size="11.6" text-anchor="end" fill="#222" font-family='"Liberation Sans", sans-serif'>5</text>
<text transform="translate(636.6,364.0) rotate(-45)" font-size="11.6" text-anchor="end" fill="#222" font-family='"Liberation Sans", sans-serif'>10</text>
<text transform="translate(656.1,364.0) rotate(-45)" font-size="11.6" text-anchor="end" fill="#222" font-family='"Liberation Sans", sans-serif'>25</text>
<text transform="translate(670.8,364.0) rotate(-45)" font-size="11.6" text-anchor="end" fill="#222" font-family='"Liberation Sans", sans-serif'>50</text>
<text transform="translate(685.6,364.0) rotate(-45)" font-size="11.6" text-anchor="end" fill="#222" font-family='"Liberation Sans", sans-serif'>100</text>
<polyline points="531.6,333.4 551.1,322.3 565.8,327.1 580.6,323.0 614.8,299.1 623.5,289.7 629.6,272.2 649.1,252.6 663.8,251.4 672.5,230.6 678.6,222.6" fill="none" stroke="#3a7bcf" stroke-width="0.9"/>
<circle cx="531.6" cy="333.4" r="3.2" fill="none" stroke="#3a7bcf" stroke-width="0.9"/>
<circle cx="551.1" cy="322.3" r="3.2" fill="none" stroke="#3a7bcf" stroke-width="0.9"/>
<circle cx="565.8" cy="327.1" r="3.2" fill="none" stroke="#3a7bcf" stroke-width="0.9"/>
<circle cx="580.6" cy="323.0" r="3.2" fill="none" stroke="#3a7bcf" stroke-width="0.9"/>
<circle cx="614.8" cy="299.1" r="3.2" fill="none" stroke="#3a7bcf" stroke-width="0.9"/>
<circle cx="623.5" cy="289.7" r="3.2" fill="none" stroke="#3a7bcf" stroke-width="0.9"/>
<circle cx="629.6" cy="272.2" r="3.2" fill="none" stroke="#3a7bcf" stroke-width="0.9"/>
<circle cx="649.1" cy="252.6" r="3.2" fill="none" stroke="#3a7bcf" stroke-width="0.9"/>
<circle cx="663.8" cy="251.4" r="3.2" fill="none" stroke="#3a7bcf" stroke-width="0.9"/>
<circle cx="672.5" cy="230.6" r="3.2" fill="none" stroke="#3a7bcf" stroke-width="0.9"/>
<circle cx="678.6" cy="222.6" r="3.2" fill="none" stroke="#3a7bcf" stroke-width="0.9"/>
<polyline points="531.6,333.4 551.1,333.4 565.8,327.1 580.6,325.9 614.8,309.8 623.5,301.6 629.6,287.3 649.1,275.0 663.8,263.9 672.5,246.4 678.6,238.1" fill="none" stroke="#d65e2c" stroke-width="0.9"/>
<circle cx="531.6" cy="333.4" r="3.2" fill="none" stroke="#d65e2c" stroke-width="0.9"/>
<circle cx="551.1" cy="333.4" r="3.2" fill="none" stroke="#d65e2c" stroke-width="0.9"/>
<circle cx="565.8" cy="327.1" r="3.2" fill="none" stroke="#d65e2c" stroke-width="0.9"/>
<circle cx="580.6" cy="325.9" r="3.2" fill="none" stroke="#d65e2c" stroke-width="0.9"/>
<circle cx="614.8" cy="309.8" r="3.2" fill="none" stroke="#d65e2c" stroke-width="0.9"/>
<circle cx="623.5" cy="301.6" r="3.2" fill="none" stroke="#d65e2c" stroke-width="0.9"/>
<circle cx="629.6" cy="287.3" r="3.2" fill="none" stroke="#d65e2c" stroke-width="0.9"/>
<circle cx="649.1" cy="275.0" r="3.2" fill="none" stroke="#d65e2c" stroke-width="0.9"/>
<circle cx="663.8" cy="263.9" r="3.2" fill="none" stroke="#d65e2c" stroke-width="0.9"/>
<circle cx="672.5" cy="246.4" r="3.2" fill="none" stroke="#d65e2c" stroke-width="0.9"/>
<circle cx="678.6" cy="238.1" r="3.2" fill="none" stroke="#d65e2c" stroke-width="0.9"/>
<polyline points="531.6,333.4 551.1,335.8 565.8,327.1 580.6,319.7 614.8,314.7 623.5,308.5 629.6,293.5 649.1,271.2 663.8,263.9 672.5,249.6 678.6,244.6" fill="none" stroke="#e8b12a" stroke-width="0.9"/>
<circle cx="531.6" cy="333.4" r="3.2" fill="none" stroke="#e8b12a" stroke-width="0.9"/>
<circle cx="551.1" cy="335.8" r="3.2" fill="none" stroke="#e8b12a" stroke-width="0.9"/>
<circle cx="565.8" cy="327.1" r="3.2" fill="none" stroke="#e8b12a" stroke-width="0.9"/>
<circle cx="580.6" cy="319.7" r="3.2" fill="none" stroke="#e8b12a" stroke-width="0.9"/>
<circle cx="614.8" cy="314.7" r="3.2" fill="none" stroke="#e8b12a" stroke-width="0.9"/>
<circle cx="623.5" cy="308.5" r="3.2" fill="none" stroke="#e8b12a" stroke-width="0.9"/>
<circle cx="629.6" cy="293.5" r="3.2" fill="none" stroke="#e8b12a" stroke-width="0.9"/>
<circle cx="649.1" cy="271.2" r="3.2" fill="none" stroke="#e8b12a" stroke-width="0.9"/>
<circle cx="663.8" cy="263.9" r="3.2" fill="none" stroke="#e8b12a" stroke-width="0.9"/>
<circle cx="672.5" cy="249.6" r="3.2" fill="none" stroke="#e8b12a" stroke-width="0.9"/>
<circle cx="678.6" cy="244.6" r="3.2" fill="none" stroke="#e8b12a" stroke-width="0.9"/>
<polyline points="531.6,333.4 551.1,331.6 565.8,335.3 580.6,336.1 614.8,318.5 623.5,332.4 629.6,313.6 649.1,305.7 663.8,299.7 672.5,285.0 678.6,280.9" fill="none" stroke="#8245a0" stroke-width="0.9"/>
<circle cx="531.6" cy="333.4" r="3.2" fill="none" stroke="#8245a0" stroke-width="0.9"/>
<circle cx="551.1" cy="331.6" r="3.2" fill="none" stroke="#8245a0" stroke-width="0.9"/>
<circle cx="565.8" cy="335.3" r="3.2" fill="none" stroke="#8245a0" stroke-width="0.9"/>
<circle cx="580.6" cy="336.1" r="3.2" fill="none" stroke="#8245a0" stroke-width="0.9"/>
<circle cx="614.8" cy="318.5" r="3.2" fill="none" stroke="#8245a0" stroke-width="0.9"/>
<circle cx="623.5" cy="332.4" r="3.2" fill="none" stroke="#8245a0" stroke-width="0.9"/>
<circle cx="629.6" cy="313.6" r="3.2" fill="none" stroke="#8245a0" stroke-width="0.9"/>
<circle cx="649.1" cy="305.7" r="3.2" fill="none" stroke="#8245a0" stroke-width="0.9"/>
<circle cx="663.8" cy="299.7" r="3.2" fill="none" stroke="#8245a0" stroke-width="0.9"/>
<circle cx="672.5" cy="285.0" r="3.2" fill="none" stroke="#8245a0" stroke-width="0.9"/>
<circle cx="678.6" cy="280.9" r="3.2" fill="none" stroke="#8245a0" stroke-width="0.9"/>
<rect x="534.3" y="207.8" width="91" height="57.5" fill="#fff" stroke="#1a1a1a" stroke-width="1.1"/>
<line x1="536.5" y1="215.6" x2="548.0999999999999" y2="215.6" stroke="#3a7bcf" stroke-width="0.9"/>
<circle cx="542.3" cy="215.6" r="3.2" fill="none" stroke="#3a7bcf" stroke-width="0.9"/>
<text x="548.8" y="219.7" font-size="11.7" fill="#111" font-family='"Liberation Sans", sans-serif'>808nm LP</text>
<line x1="536.5" y1="229.7" x2="548.0999999999999" y2="229.7" stroke="#d65e2c" stroke-width="0.9"/>
<circle cx="542.3" cy="229.7" r="3.2" fill="none" stroke="#d65e2c" stroke-width="0.9"/>
<text x="548.8" y="233.8" font-size="11.7" fill="#111" font-family='"Liberation Sans", sans-serif'>Dbl 830nm LP</text>
<line x1="536.5" y1="243.8" x2="548.0999999999999" y2="243.8" stroke="#e8b12a" stroke-width="0.9"/>
<circle cx="542.3" cy="243.8" r="3.2" fill="none" stroke="#e8b12a" stroke-width="0.9"/>
<text x="548.8" y="247.9" font-size="11.7" fill="#111" font-family='"Liberation Sans", sans-serif'>832nm BP</text>
<line x1="536.5" y1="257.9" x2="548.0999999999999" y2="257.9" stroke="#8245a0" stroke-width="0.9"/>
<circle cx="542.3" cy="257.9" r="3.2" fill="none" stroke="#8245a0" stroke-width="0.9"/>
<text x="548.8" y="262.0" font-size="11.7" fill="#111" font-family='"Liberation Sans", sans-serif'>830 nm LP</text>
<text transform="translate(507.8,281.2) rotate(-90)" font-size="19" text-anchor="middle" textLength="152.5" lengthAdjust="spacingAndGlyphs" fill="#222" font-family='"Liberation Sans", sans-serif'>Fluorescence SBR</text>
<text x="604.3" y="393" font-size="11.7" text-anchor="middle" textLength="136" lengthAdjust="spacingAndGlyphs" fill="#222" font-family='"Liberation Sans", sans-serif'>IR-125 concentration (nM)</text>
</svg>
</body></html>
